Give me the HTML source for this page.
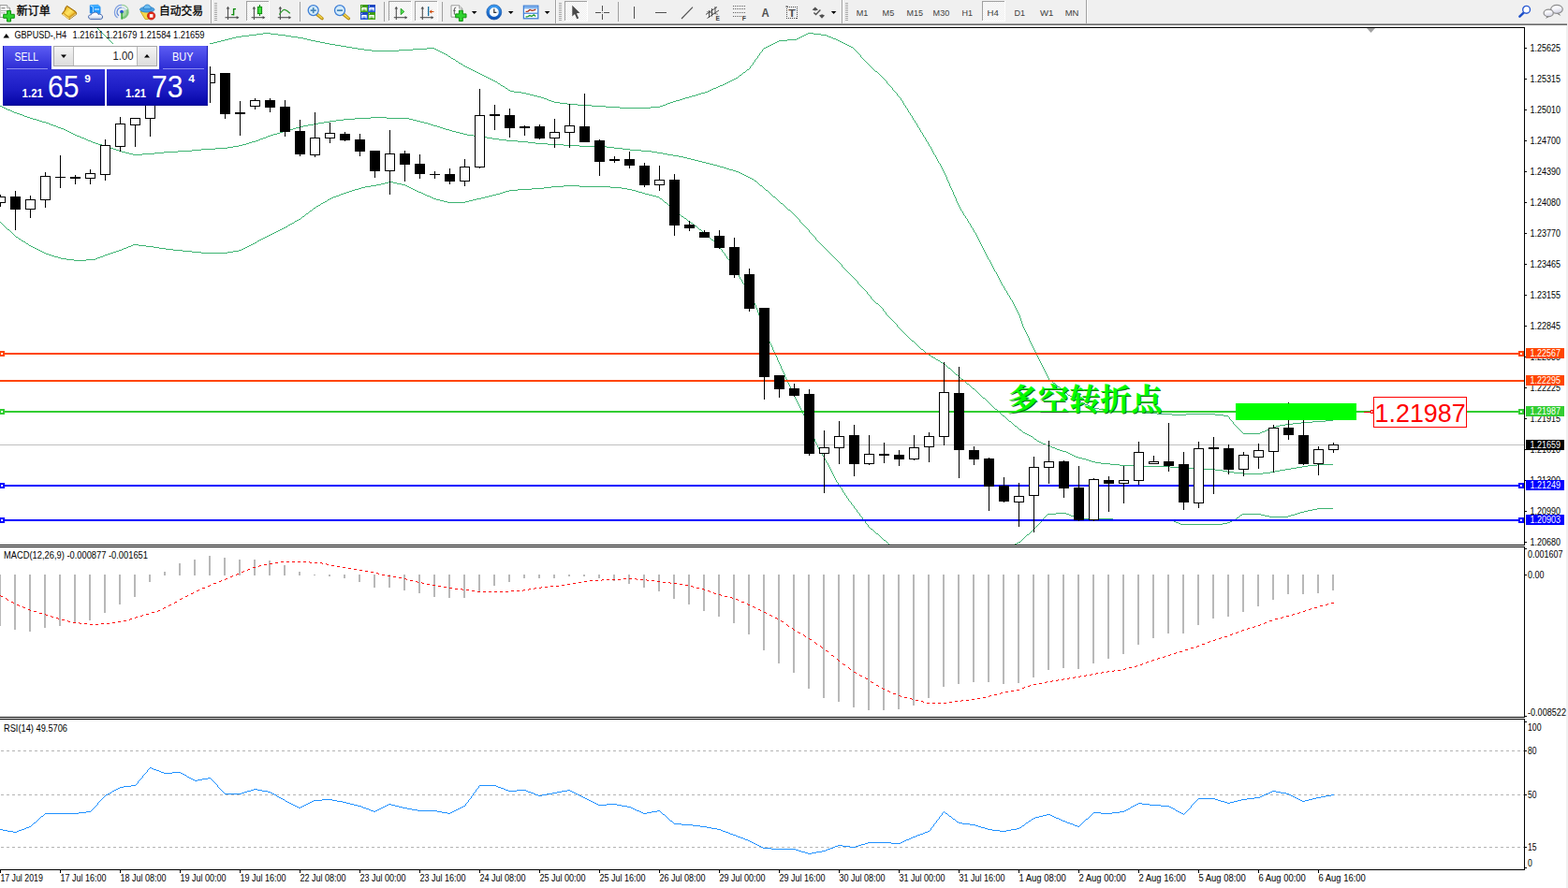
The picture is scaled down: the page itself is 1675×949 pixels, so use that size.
<!DOCTYPE html>
<html><head><meta charset="utf-8"><title>GBPUSD H4</title>
<style>html,body{margin:0;padding:0;background:#fff;overflow:hidden}body{width:1675px;height:949px;position:relative;font-family:"Liberation Sans", sans-serif}</style>
</head><body>
<svg width="1675" height="949" viewBox="0 0 1675 949" font-family='"Liberation Sans", sans-serif' style="position:absolute;left:0;top:0">
<defs>
<clipPath id="cm"><rect x="0" y="30" width="1628" height="552"/></clipPath>
<linearGradient id="gb1" x1="0" y1="0" x2="0" y2="1"><stop offset="0" stop-color="#5c5cf4"/><stop offset="1" stop-color="#2c2cd4"/></linearGradient>
<linearGradient id="gb2" x1="0" y1="0" x2="0" y2="1"><stop offset="0" stop-color="#3030d8"/><stop offset="0.55" stop-color="#1c1cc4"/><stop offset="1" stop-color="#0404a4"/></linearGradient>
<linearGradient id="gbtn" x1="0" y1="0" x2="0" y2="1"><stop offset="0" stop-color="#f4f4f4"/><stop offset="1" stop-color="#dcdcdc"/></linearGradient>
<pattern id="chk" width="2" height="2" patternUnits="userSpaceOnUse"><rect width="2" height="2" fill="#fff"/><rect width="1" height="1" fill="#ececec"/><rect x="1" y="1" width="1" height="1" fill="#ececec"/></pattern>
<linearGradient id="gbook" x1="0" y1="0" x2="1" y2="1"><stop offset="0" stop-color="#e9b422"/><stop offset="0.5" stop-color="#ffe565"/><stop offset="1" stop-color="#e2a81c"/></linearGradient>
<linearGradient id="gcloud" x1="0" y1="0" x2="0" y2="1"><stop offset="0" stop-color="#ffffff"/><stop offset="0.55" stop-color="#f2f5fa"/><stop offset="1" stop-color="#b6c4de"/></linearGradient>
<linearGradient id="gclock" x1="0" y1="0" x2="0" y2="1"><stop offset="0" stop-color="#3a9af0"/><stop offset="1" stop-color="#0f55b8"/></linearGradient>
<linearGradient id="gbub" x1="0" y1="0" x2="0.3" y2="1"><stop offset="0" stop-color="#ffffff"/><stop offset="0.5" stop-color="#f6f6fa"/><stop offset="1" stop-color="#d6d6e6"/></linearGradient>
</defs>
<rect x="0" y="0" width="1675" height="949" fill="#fff"/>
<g clip-path="url(#cm)">
<path d="M104 30.5h1M105 31.5h1M106 32.5h1M107 33.5h1M108 34.5h1M109 35.5h1M110 36.5h1M111 37.5h1M112 38.5h1M113 39.5h1M114 40.5h1M115 41.5h1M116 42.5h1M117 43.5h1M118 44.5h1M119 45.5h1M120 46.5h1M121 47.5h1M122 48.5h2M124 49.5h1M125 50.5h1M126 51.5h2M128 52.5h1M129 53.5h1M130 54.5h2M132 55.5h1M133 56.5h1M134 57.5h2M136 58.5h2M138 59.5h3M141 60.5h3M144 61.5h3M147 62.5h3M150 63.5h3M153 64.5h3M156 65.5h3M159 66.5h5M164 65.5h8M172 64.5h7M179 63.5h8M187 62.5h5M192 61.5h2M194 60.5h3M197 59.5h2M199 58.5h3M202 57.5h2M204 56.5h3M207 55.5h2M209 54.5h2M211 53.5h2M213 52.5h2M215 51.5h1M216 50.5h2M218 49.5h2M220 48.5h2M222 47.5h2M224 46.5h4M228 45.5h4M232 44.5h4M236 43.5h4M240 42.5h4M244 41.5h4M248 40.5h4M252 39.5h6M258 38.5h8M266 37.5h8M274 36.5h7M281 35.5h8M289 36.5h8M297 37.5h8M305 38.5h6M311 39.5h7M318 40.5h6M324 41.5h4M328 42.5h4M332 43.5h5M337 44.5h5M342 45.5h5M347 46.5h5M352 47.5h6M358 48.5h6M364 49.5h6M370 50.5h6M376 51.5h6M382 52.5h7M389 53.5h8M397 54.5h29M426 53.5h15M441 52.5h15M456 51.5h8M464 52.5h2M466 53.5h2M468 54.5h2M470 55.5h2M472 56.5h2M474 57.5h2M476 58.5h2M478 59.5h1M479 60.5h2M481 61.5h1M482 62.5h2M484 63.5h2M486 64.5h1M487 65.5h2M489 66.5h1M490 67.5h2M492 68.5h2M494 69.5h1M495 70.5h2M497 71.5h2M499 72.5h2M501 73.5h2M503 74.5h2M505 75.5h2M507 76.5h2M509 77.5h2M511 78.5h2M513 79.5h2M515 80.5h2M517 81.5h2M519 82.5h2M521 83.5h2M523 84.5h2M525 85.5h2M527 86.5h2M529 87.5h2M531 88.5h1M532 89.5h2M534 90.5h1M535 91.5h2M537 92.5h2M539 93.5h1M540 94.5h2M542 95.5h1M543 96.5h2M545 97.5h4M549 98.5h8M557 99.5h5M562 100.5h4M566 101.5h4M570 102.5h4M574 103.5h4M578 104.5h3M581 105.5h3M584 106.5h2M586 107.5h3M589 108.5h3M592 109.5h6M598 110.5h8M606 111.5h11M617 112.5h15M632 113.5h15M647 114.5h15M662 115.5h33M695 114.5h10M705 113.5h3M708 112.5h3M711 111.5h2M713 110.5h3M716 109.5h3M719 108.5h3M722 107.5h4M726 106.5h3M729 105.5h3M732 104.5h4M736 103.5h3M739 102.5h4M743 101.5h3M746 100.5h3M749 99.5h4M753 98.5h3M756 97.5h2M758 96.5h2M760 95.5h2M762 94.5h3M765 93.5h2M767 92.5h2M769 91.5h3M772 90.5h2M774 89.5h2M776 88.5h2M778 87.5h2M780 86.5h2M782 85.5h2M784 84.5h2M786 83.5h2M788 82.5h1M789 81.5h1M790 80.5h2M792 79.5h1M793 78.5h1M794 77.5h2M796 76.5h1M797 75.5h1M798 74.5h2M800 73.5h1M801.5 71v2M802 70.5h1M803 69.5h1M804.5 67v2M805 66.5h1M806.5 64v2M807 63.5h1M808 62.5h1M809.5 60v2M810 59.5h1M811.5 57v2M812 56.5h1M813 55.5h1M814.5 53v2M815 52.5h1M816 51.5h2M818 50.5h2M820 49.5h2M822 48.5h2M824 47.5h2M826 46.5h2M828 45.5h2M830 44.5h2M832 43.5h9M841 42.5h10M851 41.5h2M853 40.5h2M855 39.5h2M857 38.5h2M859 37.5h2M861 36.5h2M863 35.5h6M869 36.5h8M877 37.5h6M883 38.5h2M885 39.5h3M888 40.5h2M890 41.5h3M893 42.5h2M895 43.5h2M897 44.5h2M899 45.5h2M901 46.5h2M903 47.5h2M905 48.5h2M907 49.5h2M909 50.5h2M911 51.5h1M912 52.5h1M913 53.5h1M914 54.5h1M915 55.5h1M916 56.5h1M917 57.5h1M918 58.5h1M919.5 59v2M920 61.5h1M921 62.5h1M922 63.5h1M923 64.5h1M924 65.5h1M925 66.5h1M926 67.5h1M927 68.5h1M928 69.5h1M929 70.5h1M930 71.5h1M931 72.5h1M932 73.5h1M933 74.5h1M934 75.5h1M935 76.5h2M937 77.5h1M938 78.5h1M939 79.5h1M940 80.5h1M941 81.5h1M942 82.5h1M943 83.5h1M944 84.5h1M945 85.5h1M946 86.5h1M947.5 87v2M948 89.5h1M949 90.5h1M950 91.5h1M951 92.5h1M952 93.5h1M953.5 94v2M954 96.5h1M955 97.5h1M956 98.5h1M957 99.5h1M958.5 100v2M959 102.5h1M960 103.5h1M961 104.5h1M962.5 105v2M963 107.5h1M964.5 108v2M965.5 110v2M966 112.5h1M967.5 113v2M968 115.5h1M969.5 116v2M970.5 118v2M971 120.5h1M972.5 121v2M973 123.5h1M974.5 124v2M975.5 126v2M976 128.5h1M977.5 129v2M978 131.5h1M979.5 132v2M980.5 134v2M981 136.5h1M982.5 137v2M983.5 139v2M984 141.5h1M985.5 142v2M986.5 144v2M987 146.5h1M988.5 147v2M989.5 149v2M990 151.5h1M991.5 152v2M992.5 154v2M993 156.5h1M994.5 157v2M995.5 159v2M996.5 161v2M997.5 163v2M998 165.5h1M999.5 166v2M1000.5 168v2M1001.5 170v2M1002.5 172v2M1003 174.5h1M1004.5 175v2M1005.5 177v2M1006.5 179v2M1007.5 181v2M1008.5 183v2M1009.5 185v2M1010.5 187v2M1011.5 189v3M1012.5 192v2M1013.5 194v2M1014.5 196v3M1015.5 199v2M1016.5 201v2M1017.5 203v2M1018.5 205v3M1019.5 208v2M1020.5 210v2M1021.5 212v3M1022.5 215v2M1023.5 217v2M1024.5 219v2M1025.5 221v2M1026.5 223v2M1027 225.5h1M1028.5 226v2M1029.5 228v2M1030 230.5h1M1031.5 231v2M1032 233.5h1M1033.5 234v2M1034.5 236v2M1035 238.5h1M1036.5 239v2M1037.5 241v2M1038 243.5h1M1039.5 244v2M1040.5 246v2M1041 248.5h1M1042.5 249v2M1043.5 251v2M1044.5 253v2M1045.5 255v2M1046.5 257v2M1047.5 259v2M1048.5 261v2M1049.5 263v2M1050.5 265v2M1051.5 267v2M1052.5 269v2M1053.5 271v2M1054.5 273v2M1055.5 275v2M1056 277.5h1M1057.5 278v2M1058.5 280v2M1059.5 282v2M1060.5 284v2M1061.5 286v2M1062.5 288v2M1063 290.5h1M1064.5 291v2M1065.5 293v2M1066.5 295v2M1067.5 297v2M1068.5 299v2M1069.5 301v2M1070.5 303v2M1071 305.5h1M1072.5 306v2M1073.5 308v2M1074 310.5h1M1075.5 311v2M1076.5 313v2M1077 315.5h1M1078.5 316v2M1079.5 318v2M1080 320.5h1M1081.5 321v2M1082.5 323v2M1083.5 325v2M1084.5 327v2M1085.5 329v2M1086.5 331v2M1087.5 333v2M1088.5 335v2M1089.5 337v3M1090.5 340v3M1091.5 343v3M1092.5 346v3M1093.5 349v2M1094.5 351v2M1095.5 353v2M1096.5 355v2M1097.5 357v2M1098.5 359v2M1099.5 361v3M1100.5 364v2M1101.5 366v2M1102.5 368v2M1103.5 370v2M1104.5 372v2M1105.5 374v2M1106.5 376v2M1107.5 378v2M1108.5 380v2M1109.5 382v2M1110.5 384v2M1111.5 386v2M1112.5 388v2M1113.5 390v2M1114.5 392v2M1115.5 394v2M1116.5 396v2M1117.5 398v2M1118.5 400v2M1119.5 402v2M1120.5 404v2M1121 406.5h2M1123 407.5h1M1124 408.5h1M1125 409.5h2M1127 410.5h1M1128 411.5h1M1129 412.5h1M1130 413.5h2M1132 414.5h1M1133 415.5h1M1134 416.5h1M1135 417.5h1M1136 418.5h2M1138 419.5h1M1139 420.5h1M1140 421.5h1M1141 422.5h2M1143 423.5h2M1145 424.5h1M1146 425.5h2M1148 426.5h2M1150 427.5h1M1151 428.5h2M1153 429.5h2M1155 430.5h2M1157 431.5h2M1159 432.5h3M1162 433.5h2M1164 434.5h3M1167 435.5h2M1169 436.5h5M1174 437.5h6M1180 438.5h7M1187 439.5h13M1200 440.5h20M1220 441.5h16M1236 442.5h16M1252 443.5h15M1267 442.5h31M1298 443.5h9M1307 444.5h5M1312 445.5h1M1313.5 446v2M1314 448.5h1M1315 449.5h1M1316 450.5h1M1317.5 451v2M1318 453.5h1M1319 454.5h1M1320 455.5h1M1321 456.5h1M1322 457.5h1M1323 458.5h1M1324 459.5h1M1325 460.5h1M1326 461.5h1M1327 462.5h1M1328 463.5h18M1346 462.5h2M1348 461.5h3M1351 460.5h2M1353 459.5h3M1356 458.5h2M1358 457.5h3M1361 456.5h2M1363 455.5h4M1367 454.5h6M1373 453.5h8M1381 452.5h9M1390 451.5h12M1402 450.5h14M1416 449.5h8" fill="none" stroke="#3cb371" stroke-width="1" shape-rendering="crispEdges"/>
<path d="M0 113.5h2M2 114.5h2M4 115.5h2M6 116.5h2M8 117.5h3M11 118.5h2M13 119.5h2M15 120.5h3M18 121.5h3M21 122.5h3M24 123.5h2M26 124.5h3M29 125.5h3M32 126.5h3M35 127.5h4M39 128.5h3M42 129.5h3M45 130.5h4M49 131.5h3M52 132.5h2M54 133.5h3M57 134.5h3M60 135.5h2M62 136.5h3M65 137.5h3M68 138.5h2M70 139.5h2M72 140.5h2M74 141.5h2M76 142.5h2M78 143.5h2M80 144.5h2M82 145.5h3M85 146.5h2M87 147.5h3M90 148.5h2M92 149.5h2M94 150.5h3M97 151.5h2M99 152.5h3M102 153.5h3M105 154.5h4M109 155.5h3M112 156.5h3M115 157.5h3M118 158.5h3M121 159.5h3M124 160.5h3M127 161.5h3M130 162.5h4M134 163.5h4M138 164.5h4M142 165.5h10M152 164.5h13M165 163.5h10M175 162.5h15M190 161.5h15M205 160.5h10M215 159.5h15M230 158.5h13M243 157.5h6M249 156.5h6M255 155.5h4M259 154.5h4M263 153.5h3M266 152.5h3M269 151.5h4M273 150.5h3M276 149.5h2M278 148.5h3M281 147.5h3M284 146.5h2M286 145.5h3M289 144.5h3M292 143.5h4M296 142.5h3M299 141.5h3M302 140.5h4M306 139.5h3M309 138.5h4M313 137.5h3M316 136.5h4M320 135.5h4M324 134.5h5M329 133.5h6M335 132.5h5M340 131.5h6M346 130.5h6M352 129.5h7M359 128.5h8M367 127.5h12M379 126.5h17M396 125.5h17M413 126.5h24M437 127.5h4M441 128.5h4M445 129.5h4M449 130.5h4M453 131.5h4M457 132.5h3M460 133.5h3M463 134.5h4M467 135.5h3M470 136.5h3M473 137.5h3M476 138.5h4M480 139.5h3M483 140.5h4M487 141.5h4M491 142.5h4M495 143.5h4M499 144.5h7M506 145.5h8M514 146.5h6M520 147.5h6M526 148.5h7M533 149.5h8M541 150.5h12M553 151.5h11M564 152.5h8M572 153.5h13M585 154.5h17M602 155.5h17M619 156.5h29M648 157.5h8M656 158.5h9M665 159.5h8M673 160.5h12M685 161.5h11M696 162.5h6M702 163.5h6M708 164.5h5M713 165.5h6M719 166.5h6M725 167.5h5M730 168.5h4M734 169.5h4M738 170.5h4M742 171.5h4M746 172.5h4M750 173.5h4M754 174.5h4M758 175.5h4M762 176.5h4M766 177.5h3M769 178.5h4M773 179.5h3M776 180.5h3M779 181.5h4M783 182.5h3M786 183.5h3M789 184.5h2M791 185.5h2M793 186.5h2M795 187.5h2M797 188.5h2M799 189.5h2M801 190.5h2M803 191.5h2M805 192.5h1M806 193.5h2M808 194.5h1M809 195.5h1M810 196.5h1M811 197.5h1M812 198.5h2M814 199.5h1M815 200.5h1M816 201.5h1M817 202.5h1M818 203.5h2M820 204.5h1M821 205.5h1M822 206.5h1M823 207.5h1M824 208.5h1M825 209.5h1M826 210.5h2M828 211.5h1M829 212.5h1M830 213.5h1M831 214.5h1M832 215.5h1M833 216.5h1M834 217.5h2M836 218.5h1M837 219.5h1M838 220.5h1M839 221.5h1M840 222.5h1M841 223.5h1M842 224.5h2M844 225.5h1M845 226.5h1M846 227.5h1M847 228.5h1M848 229.5h1M849 230.5h1M850 231.5h1M851 232.5h1M852 233.5h1M853 234.5h1M854.5 235v2M855 237.5h1M856 238.5h1M857 239.5h1M858 240.5h1M859 241.5h1M860 242.5h1M861 243.5h1M862 244.5h1M863 245.5h1M864.5 246v2M865 248.5h1M866 249.5h1M867 250.5h1M868 251.5h1M869 252.5h1M870 253.5h1M871.5 254v2M872 256.5h1M873 257.5h1M874 258.5h1M875 259.5h1M876 260.5h1M877 261.5h1M878 262.5h1M879 263.5h1M880 264.5h1M881 265.5h1M882 266.5h1M883 267.5h1M884 268.5h1M885 269.5h1M886 270.5h1M887 271.5h1M888 272.5h1M889 273.5h1M890 274.5h1M891 275.5h1M892 276.5h1M893 277.5h1M894 278.5h1M895 279.5h1M896 280.5h1M897 281.5h1M898 282.5h1M899.5 283v2M900 285.5h1M901 286.5h1M902 287.5h1M903 288.5h1M904 289.5h1M905 290.5h1M906 291.5h1M907 292.5h1M908 293.5h1M909 294.5h1M910 295.5h1M911 296.5h1M912 297.5h1M913 298.5h1M914 299.5h1M915 300.5h1M916.5 301v2M917 303.5h1M918 304.5h1M919 305.5h1M920 306.5h1M921 307.5h1M922 308.5h1M923 309.5h1M924 310.5h1M925 311.5h1M926.5 312v2M927 314.5h1M928 315.5h1M929 316.5h1M930.5 317v2M931 319.5h1M932 320.5h1M933 321.5h1M934 322.5h1M935 323.5h1M936 324.5h2M938 325.5h1M939 326.5h1M940 327.5h1M941 328.5h1M942 329.5h1M943.5 330v2M944 332.5h1M945 333.5h1M946.5 334v2M947 336.5h1M948 337.5h1M949 338.5h1M950 339.5h1M951 340.5h1M952 341.5h1M953 342.5h1M954 343.5h1M955 344.5h1M956 345.5h1M957 346.5h1M958.5 347v2M959 349.5h1M960 350.5h1M961 351.5h1M962 352.5h1M963 353.5h1M964 354.5h1M965 355.5h1M966 356.5h1M967 357.5h1M968 358.5h1M969 359.5h1M970 360.5h1M971 361.5h1M972 362.5h1M973 363.5h1M974 364.5h2M976 365.5h1M977 366.5h1M978 367.5h1M979 368.5h1M980 369.5h1M981 370.5h1M982 371.5h1M983 372.5h1M984 373.5h2M986 374.5h1M987 375.5h1M988 376.5h1M989 377.5h1M990 378.5h2M992 379.5h2M994 380.5h1M995 381.5h2M997 382.5h2M999 383.5h1M1000 384.5h2M1002 385.5h2M1004 386.5h1M1005 387.5h2M1007 388.5h2M1009 389.5h1M1010 390.5h1M1011 391.5h1M1012 392.5h1M1013 393.5h2M1015 394.5h1M1016 395.5h1M1017 396.5h1M1018 397.5h1M1019 398.5h1M1020 399.5h1M1021 400.5h2M1023 401.5h1M1024 402.5h1M1025 403.5h1M1026 404.5h1M1027 405.5h2M1029 406.5h1M1030 407.5h1M1031 408.5h1M1032 409.5h1M1033 410.5h2M1035 411.5h1M1036 412.5h1M1037 413.5h1M1038 414.5h1M1039 415.5h2M1041 416.5h1M1042 417.5h1M1043 418.5h1M1044 419.5h1M1045 420.5h1M1046 421.5h1M1047 422.5h1M1048 423.5h1M1049 424.5h1M1050 425.5h2M1052 426.5h1M1053 427.5h1M1054 428.5h1M1055 429.5h1M1056 430.5h1M1057 431.5h1M1058 432.5h1M1059 433.5h1M1060 434.5h1M1061 435.5h1M1062 436.5h1M1063 437.5h2M1065 438.5h1M1066 439.5h1M1067 440.5h1M1068 441.5h1M1069 442.5h1M1070 443.5h1M1071 444.5h2M1073 445.5h1M1074 446.5h1M1075 447.5h1M1076 448.5h1M1077 449.5h1M1078 450.5h2M1080 451.5h1M1081 452.5h1M1082 453.5h1M1083 454.5h1M1084 455.5h2M1086 456.5h1M1087 457.5h1M1088 458.5h1M1089 459.5h2M1091 460.5h1M1092 461.5h1M1093 462.5h2M1095 463.5h2M1097 464.5h2M1099 465.5h2M1101 466.5h2M1103 467.5h1M1104 468.5h1M1105 469.5h2M1107 470.5h1M1108 471.5h2M1110 472.5h2M1112 473.5h2M1114 474.5h3M1117 475.5h2M1119 476.5h3M1122 477.5h2M1124 478.5h3M1127 479.5h2M1129 480.5h3M1132 481.5h3M1135 482.5h4M1139 483.5h2M1141 484.5h2M1143 485.5h2M1145 486.5h2M1147 487.5h2M1149 488.5h3M1152 489.5h4M1156 490.5h4M1160 491.5h3M1163 492.5h3M1166 493.5h4M1170 494.5h6M1176 495.5h10M1186 496.5h10M1196 497.5h23M1219 498.5h31M1250 499.5h15M1265 500.5h18M1283 501.5h15M1298 502.5h8M1306 503.5h5M1311 504.5h7M1318 505.5h10M1328 506.5h21M1349 505.5h8M1357 504.5h5M1362 503.5h5M1367 502.5h6M1373 501.5h6M1379 500.5h6M1385 499.5h6M1391 498.5h6M1397 497.5h10M1407 496.5h17" fill="none" stroke="#3cb371" stroke-width="1" shape-rendering="crispEdges"/>
<path d="M0 237.5h1M1 238.5h1M2 239.5h1M3 240.5h1M4 241.5h1M5 242.5h1M6 243.5h1M7 244.5h1M8 245.5h2M10 246.5h1M11 247.5h1M12 248.5h1M13 249.5h1M14 250.5h1M15 251.5h1M16 252.5h1M17 253.5h2M19 254.5h1M20 255.5h2M22 256.5h1M23 257.5h2M25 258.5h2M27 259.5h1M28 260.5h2M30 261.5h1M31 262.5h2M33 263.5h2M35 264.5h2M37 265.5h2M39 266.5h2M41 267.5h2M43 268.5h2M45 269.5h2M47 270.5h2M49 271.5h3M52 272.5h3M55 273.5h3M58 274.5h4M62 275.5h3M65 276.5h6M71 277.5h8M79 278.5h13M92 277.5h10M102 276.5h2M104 275.5h3M107 274.5h3M110 273.5h2M112 272.5h3M115 271.5h3M118 270.5h3M121 269.5h3M124 268.5h3M127 267.5h3M130 266.5h2M132 265.5h3M135 264.5h2M137 263.5h3M140 262.5h2M142 261.5h6M148 262.5h8M156 263.5h8M164 264.5h6M170 265.5h7M177 266.5h8M185 267.5h10M195 268.5h10M205 269.5h10M215 270.5h28M243 269.5h6M249 268.5h6M255 267.5h3M258 266.5h2M260 265.5h2M262 264.5h2M264 263.5h2M266 262.5h2M268 261.5h2M270 260.5h2M272 259.5h2M274 258.5h1M275 257.5h2M277 256.5h2M279 255.5h2M281 254.5h2M283 253.5h2M285 252.5h2M287 251.5h2M289 250.5h2M291 249.5h2M293 248.5h2M295 247.5h2M297 246.5h2M299 245.5h2M301 244.5h2M303 243.5h2M305 242.5h2M307 241.5h1M308 240.5h2M310 239.5h2M312 238.5h2M314 237.5h1M315 236.5h2M317 235.5h2M319 234.5h2M321 233.5h1M322 232.5h1M323 231.5h2M325 230.5h1M326 229.5h1M327 228.5h2M329 227.5h1M330 226.5h1M331 225.5h2M333 224.5h1M334 223.5h1M335 222.5h2M337 221.5h1M338 220.5h2M340 219.5h2M342 218.5h1M343 217.5h2M345 216.5h2M347 215.5h2M349 214.5h1M350 213.5h2M352 212.5h2M354 211.5h2M356 210.5h3M359 209.5h3M362 208.5h2M364 207.5h3M367 206.5h3M370 205.5h3M373 204.5h3M376 203.5h3M379 202.5h4M383 201.5h3M386 200.5h4M390 199.5h6M396 198.5h6M402 197.5h5M407 196.5h4M411 195.5h4M415 194.5h5M420 195.5h4M424 196.5h5M429 197.5h4M433 198.5h2M435 199.5h2M437 200.5h2M439 201.5h2M441 202.5h2M443 203.5h2M445 204.5h2M447 205.5h3M450 206.5h2M452 207.5h2M454 208.5h2M456 209.5h3M459 210.5h2M461 211.5h2M463 212.5h3M466 213.5h4M470 214.5h4M474 215.5h4M478 216.5h19M497 215.5h4M501 214.5h4M505 213.5h4M509 212.5h5M514 211.5h4M518 210.5h4M522 209.5h4M526 208.5h4M530 207.5h4M534 206.5h3M537 205.5h3M540 204.5h4M544 203.5h9M553 202.5h15M568 201.5h13M581 200.5h8M589 199.5h13M602 198.5h17M619 199.5h33M652 200.5h12M664 201.5h6M670 202.5h5M675 203.5h4M679 204.5h3M682 205.5h4M686 206.5h3M689 207.5h4M693 208.5h4M697 209.5h4M701 210.5h3M704 211.5h1M705 212.5h2M707 213.5h1M708 214.5h1M709 215.5h1M710 216.5h2M712 217.5h1M713 218.5h1M714 219.5h1M715 220.5h1M716 221.5h2M718 222.5h1M719 223.5h1M720 224.5h1M721 225.5h1M722 226.5h1M723 227.5h2M725 228.5h1M726 229.5h1M727 230.5h1M728 231.5h2M730 232.5h1M731 233.5h2M733 234.5h1M734 235.5h1M735 236.5h2M737 237.5h1M738 238.5h2M740 239.5h1M741 240.5h1M742 241.5h2M744 242.5h1M745 243.5h1M746 244.5h1M747 245.5h2M749 246.5h1M750 247.5h1M751 248.5h2M753 249.5h1M754 250.5h1M755 251.5h1M756 252.5h1M757 253.5h1M758 254.5h1M759 255.5h1M760 256.5h2M762 257.5h1M763 258.5h1M764 259.5h1M765 260.5h1M766 261.5h1M767 262.5h1M768.5 263v2M769 265.5h1M770 266.5h1M771.5 267v2M772 269.5h1M773 270.5h1M774.5 271v2M775 273.5h1M776.5 274v2M777 276.5h1M778 277.5h1M779.5 278v2M780 280.5h1M781.5 281v2M782.5 283v2M783 285.5h1M784.5 286v2M785.5 288v2M786 290.5h1M787.5 291v2M788 293.5h1M789.5 294v2M790.5 296v2M791 298.5h1M792.5 299v2M793.5 301v2M794 303.5h1M795.5 304v2M796.5 306v2M797.5 308v2M798 310.5h1M799.5 311v2M800.5 313v2M801 315.5h1M802.5 316v2M803.5 318v2M804.5 320v2M805.5 322v2M806.5 324v2M807.5 326v3M808.5 329v2M809.5 331v3M810.5 334v3M811.5 337v2M812.5 339v3M813.5 342v2M814.5 344v3M815.5 347v2M816.5 349v3M817.5 352v2M818.5 354v3M819.5 357v3M820.5 360v2M821.5 362v3M822.5 365v2M823.5 367v2M824.5 369v2M825.5 371v3M826.5 374v2M827.5 376v2M828.5 378v2M829.5 380v2M830.5 382v3M831.5 385v2M832.5 387v2M833.5 389v2M834.5 391v3M835.5 394v2M836.5 396v2M837.5 398v2M838.5 400v3M839.5 403v2M840.5 405v2M841.5 407v2M842.5 409v2M843.5 411v2M844.5 413v2M845.5 415v3M846.5 418v2M847.5 420v2M848.5 422v2M849.5 424v2M850.5 426v2M851.5 428v2M852.5 430v2M853.5 432v2M854.5 434v2M855.5 436v2M856.5 438v2M857.5 440v2M858.5 442v2M859.5 444v2M860.5 446v2M861.5 448v2M862.5 450v2M863.5 452v3M864.5 455v2M865.5 457v3M866.5 460v2M867.5 462v2M868.5 464v3M869.5 467v2M870.5 469v3M871.5 472v2M872.5 474v2M873.5 476v2M874.5 478v2M875.5 480v2M876 482.5h1M877.5 483v2M878.5 485v2M879 487.5h1M880.5 488v2M881.5 490v2M882.5 492v2M883 494.5h1M884.5 495v2M885.5 497v2M886.5 499v2M887.5 501v2M888.5 503v2M889.5 505v2M890.5 507v2M891.5 509v2M892.5 511v2M893.5 513v2M894 515.5h1M895.5 516v2M896 518.5h1M897.5 519v2M898 521.5h1M899.5 522v2M900.5 524v2M901 526.5h1M902.5 527v2M903 529.5h1M904.5 530v2M905 532.5h1M906.5 533v2M907 535.5h1M908 536.5h1M909.5 537v2M910 539.5h1M911 540.5h1M912.5 541v2M913 543.5h1M914 544.5h1M915.5 545v2M916 547.5h1M917 548.5h1M918.5 549v2M919 551.5h1M920 552.5h1M921.5 553v2M922 555.5h1M923 556.5h1M924.5 557v2M925 559.5h1M926 560.5h1M927.5 561v2M928 563.5h1M929 564.5h1M930 565.5h2M932 566.5h1M933 567.5h1M934 568.5h1M935 569.5h1M936 570.5h2M938 571.5h1M939 572.5h1M940 573.5h1M941 574.5h1M942 575.5h1M943 576.5h1M944 577.5h2M946 578.5h1M947 579.5h1M948 580.5h1M949 581.5h1M1084 581.5h2M1086 580.5h2M1088 579.5h2M1090 578.5h1M1091 577.5h1M1092 576.5h1M1093 575.5h1M1094 574.5h1M1095 573.5h1M1096 572.5h1M1097 571.5h2M1099 570.5h1M1100 569.5h1M1101 568.5h1M1102 567.5h1M1103 566.5h1M1104 565.5h1M1105 564.5h1M1106 563.5h1M1107 562.5h1M1108 561.5h1M1109 560.5h1M1110 559.5h1M1111 558.5h1M1112.5 556v2M1113 555.5h1M1114 554.5h1M1115 553.5h1M1116 552.5h1M1117 551.5h1M1118 550.5h1M1119 549.5h9M1128 548.5h11M1139 549.5h3M1142 550.5h2M1144 551.5h3M1147 552.5h4M1151 553.5h4M1155 554.5h34M1189 555.5h47M1236 556.5h18M1254 557.5h2M1256 558.5h3M1259 559.5h2M1261 560.5h45M1306 559.5h5M1311 558.5h3M1314 557.5h2M1316 556.5h2M1318 555.5h2M1320 554.5h1M1321 553.5h2M1323 552.5h1M1324 551.5h1M1325 550.5h2M1327 549.5h20M1347 550.5h4M1351 551.5h5M1356 552.5h20M1376 551.5h3M1379 550.5h4M1383 549.5h3M1386 548.5h3M1389 547.5h4M1393 546.5h4M1397 545.5h5M1402 544.5h5M1407 543.5h17" fill="none" stroke="#3cb371" stroke-width="1" shape-rendering="crispEdges"/>
<g shape-rendering="crispEdges">
<rect x="0" y="475" width="1628" height="1" fill="#c0c0c0"/>
<rect x="0" y="377" width="1628" height="2" fill="#ff4500"/>
<rect x="0" y="406" width="1628" height="2" fill="#ff4500"/>
<rect x="0" y="439" width="1628" height="2" fill="#32cd32"/>
<rect x="0" y="518" width="1628" height="2" fill="#0000ff"/>
<rect x="0" y="555" width="1628" height="2" fill="#0000ff"/>
<rect x="0" y="208" width="1" height="13" fill="#000"/>
<rect x="-5" y="210" width="11" height="7" fill="#000"/>
<rect x="-4" y="211" width="9" height="5" fill="#fff"/>
<rect x="16" y="204" width="1" height="42" fill="#000"/>
<rect x="11" y="210" width="11" height="14" fill="#000"/>
<rect x="32" y="209" width="1" height="24" fill="#000"/>
<rect x="27" y="213" width="11" height="11" fill="#000"/>
<rect x="28" y="214" width="9" height="9" fill="#fff"/>
<rect x="48" y="184" width="1" height="38" fill="#000"/>
<rect x="43" y="188" width="11" height="26" fill="#000"/>
<rect x="44" y="189" width="9" height="24" fill="#fff"/>
<rect x="64" y="166" width="1" height="35" fill="#000"/>
<rect x="59" y="189" width="11" height="1" fill="#000"/>
<rect x="80" y="187" width="1" height="10" fill="#000"/>
<rect x="75" y="189" width="11" height="2" fill="#000"/>
<rect x="96" y="181" width="1" height="16" fill="#000"/>
<rect x="91" y="185" width="11" height="6" fill="#000"/>
<rect x="92" y="186" width="9" height="4" fill="#fff"/>
<rect x="112" y="149" width="1" height="44" fill="#000"/>
<rect x="107" y="155" width="11" height="32" fill="#000"/>
<rect x="108" y="156" width="9" height="30" fill="#fff"/>
<rect x="128" y="125" width="1" height="37" fill="#000"/>
<rect x="123" y="132" width="11" height="25" fill="#000"/>
<rect x="124" y="133" width="9" height="23" fill="#fff"/>
<rect x="144" y="126" width="1" height="31" fill="#000"/>
<rect x="139" y="126" width="11" height="8" fill="#000"/>
<rect x="140" y="127" width="9" height="6" fill="#fff"/>
<rect x="160" y="92" width="1" height="54" fill="#000"/>
<rect x="155" y="99" width="11" height="28" fill="#000"/>
<rect x="156" y="100" width="9" height="26" fill="#fff"/>
<rect x="176" y="80" width="1" height="24" fill="#000"/>
<rect x="171" y="84" width="11" height="16" fill="#000"/>
<rect x="172" y="85" width="9" height="14" fill="#fff"/>
<rect x="192" y="70" width="1" height="25" fill="#000"/>
<rect x="187" y="76" width="11" height="9" fill="#000"/>
<rect x="188" y="77" width="9" height="7" fill="#fff"/>
<rect x="208" y="66" width="1" height="24" fill="#000"/>
<rect x="203" y="74" width="11" height="6" fill="#000"/>
<rect x="224" y="71" width="1" height="39" fill="#000"/>
<rect x="219" y="79" width="11" height="10" fill="#000"/>
<rect x="220" y="80" width="9" height="8" fill="#fff"/>
<rect x="240" y="78" width="1" height="49" fill="#000"/>
<rect x="235" y="78" width="11" height="44" fill="#000"/>
<rect x="256" y="108" width="1" height="37" fill="#000"/>
<rect x="251" y="120" width="11" height="2" fill="#000"/>
<rect x="272" y="105" width="1" height="12" fill="#000"/>
<rect x="267" y="107" width="11" height="7" fill="#000"/>
<rect x="268" y="108" width="9" height="5" fill="#fff"/>
<rect x="288" y="105" width="1" height="15" fill="#000"/>
<rect x="283" y="107" width="11" height="8" fill="#000"/>
<rect x="304" y="107" width="1" height="39" fill="#000"/>
<rect x="299" y="114" width="11" height="27" fill="#000"/>
<rect x="320" y="128" width="1" height="39" fill="#000"/>
<rect x="315" y="140" width="11" height="25" fill="#000"/>
<rect x="336" y="120" width="1" height="48" fill="#000"/>
<rect x="331" y="147" width="11" height="19" fill="#000"/>
<rect x="332" y="148" width="9" height="17" fill="#fff"/>
<rect x="352" y="131" width="1" height="22" fill="#000"/>
<rect x="347" y="142" width="11" height="6" fill="#000"/>
<rect x="348" y="143" width="9" height="4" fill="#fff"/>
<rect x="368" y="141" width="1" height="10" fill="#000"/>
<rect x="363" y="143" width="11" height="7" fill="#000"/>
<rect x="384" y="143" width="1" height="24" fill="#000"/>
<rect x="379" y="149" width="11" height="13" fill="#000"/>
<rect x="400" y="161" width="1" height="29" fill="#000"/>
<rect x="395" y="161" width="11" height="22" fill="#000"/>
<rect x="416" y="139" width="1" height="69" fill="#000"/>
<rect x="411" y="164" width="11" height="19" fill="#000"/>
<rect x="412" y="165" width="9" height="17" fill="#fff"/>
<rect x="432" y="161" width="1" height="33" fill="#000"/>
<rect x="427" y="164" width="11" height="12" fill="#000"/>
<rect x="448" y="165" width="1" height="26" fill="#000"/>
<rect x="443" y="175" width="11" height="11" fill="#000"/>
<rect x="464" y="183" width="1" height="8" fill="#000"/>
<rect x="459" y="186" width="11" height="1" fill="#000"/>
<rect x="480" y="180" width="1" height="17" fill="#000"/>
<rect x="475" y="186" width="11" height="8" fill="#000"/>
<rect x="496" y="170" width="1" height="29" fill="#000"/>
<rect x="491" y="178" width="11" height="16" fill="#000"/>
<rect x="492" y="179" width="9" height="14" fill="#fff"/>
<rect x="512" y="95" width="1" height="85" fill="#000"/>
<rect x="507" y="123" width="11" height="56" fill="#000"/>
<rect x="508" y="124" width="9" height="54" fill="#fff"/>
<rect x="528" y="112" width="1" height="27" fill="#000"/>
<rect x="523" y="122" width="11" height="2" fill="#000"/>
<rect x="544" y="116" width="1" height="31" fill="#000"/>
<rect x="539" y="123" width="11" height="14" fill="#000"/>
<rect x="560" y="134" width="1" height="11" fill="#000"/>
<rect x="555" y="135" width="11" height="2" fill="#000"/>
<rect x="576" y="133" width="1" height="16" fill="#000"/>
<rect x="571" y="135" width="11" height="13" fill="#000"/>
<rect x="592" y="127" width="1" height="31" fill="#000"/>
<rect x="587" y="141" width="11" height="7" fill="#000"/>
<rect x="588" y="142" width="9" height="5" fill="#fff"/>
<rect x="608" y="111" width="1" height="47" fill="#000"/>
<rect x="603" y="134" width="11" height="8" fill="#000"/>
<rect x="604" y="135" width="9" height="6" fill="#fff"/>
<rect x="624" y="100" width="1" height="52" fill="#000"/>
<rect x="619" y="135" width="11" height="17" fill="#000"/>
<rect x="640" y="149" width="1" height="39" fill="#000"/>
<rect x="635" y="150" width="11" height="23" fill="#000"/>
<rect x="656" y="167" width="1" height="7" fill="#000"/>
<rect x="651" y="170" width="11" height="2" fill="#000"/>
<rect x="672" y="162" width="1" height="18" fill="#000"/>
<rect x="667" y="170" width="11" height="7" fill="#000"/>
<rect x="688" y="174" width="1" height="26" fill="#000"/>
<rect x="683" y="177" width="11" height="21" fill="#000"/>
<rect x="704" y="177" width="1" height="27" fill="#000"/>
<rect x="699" y="192" width="11" height="6" fill="#000"/>
<rect x="700" y="193" width="9" height="4" fill="#fff"/>
<rect x="720" y="186" width="1" height="66" fill="#000"/>
<rect x="715" y="192" width="11" height="49" fill="#000"/>
<rect x="736" y="236" width="1" height="11" fill="#000"/>
<rect x="731" y="240" width="11" height="4" fill="#000"/>
<rect x="752" y="246" width="1" height="8" fill="#000"/>
<rect x="747" y="248" width="11" height="6" fill="#000"/>
<rect x="768" y="246" width="1" height="20" fill="#000"/>
<rect x="763" y="252" width="11" height="13" fill="#000"/>
<rect x="784" y="254" width="1" height="43" fill="#000"/>
<rect x="779" y="264" width="11" height="30" fill="#000"/>
<rect x="800" y="287" width="1" height="46" fill="#000"/>
<rect x="795" y="293" width="11" height="37" fill="#000"/>
<rect x="816" y="329" width="1" height="98" fill="#000"/>
<rect x="811" y="329" width="11" height="74" fill="#000"/>
<rect x="832" y="401" width="1" height="24" fill="#000"/>
<rect x="827" y="401" width="11" height="15" fill="#000"/>
<rect x="848" y="410" width="1" height="14" fill="#000"/>
<rect x="843" y="415" width="11" height="8" fill="#000"/>
<rect x="864" y="416" width="1" height="71" fill="#000"/>
<rect x="859" y="421" width="11" height="64" fill="#000"/>
<rect x="880" y="460" width="1" height="67" fill="#000"/>
<rect x="875" y="478" width="11" height="7" fill="#000"/>
<rect x="876" y="479" width="9" height="5" fill="#fff"/>
<rect x="896" y="450" width="1" height="46" fill="#000"/>
<rect x="891" y="466" width="11" height="13" fill="#000"/>
<rect x="892" y="467" width="9" height="11" fill="#fff"/>
<rect x="912" y="454" width="1" height="55" fill="#000"/>
<rect x="907" y="465" width="11" height="31" fill="#000"/>
<rect x="928" y="465" width="1" height="32" fill="#000"/>
<rect x="923" y="485" width="11" height="11" fill="#000"/>
<rect x="924" y="486" width="9" height="9" fill="#fff"/>
<rect x="944" y="473" width="1" height="22" fill="#000"/>
<rect x="939" y="485" width="11" height="2" fill="#000"/>
<rect x="960" y="481" width="1" height="17" fill="#000"/>
<rect x="955" y="486" width="11" height="5" fill="#000"/>
<rect x="976" y="465" width="1" height="27" fill="#000"/>
<rect x="971" y="478" width="11" height="13" fill="#000"/>
<rect x="972" y="479" width="9" height="11" fill="#fff"/>
<rect x="992" y="462" width="1" height="32" fill="#000"/>
<rect x="987" y="466" width="11" height="12" fill="#000"/>
<rect x="988" y="467" width="9" height="10" fill="#fff"/>
<rect x="1008" y="387" width="1" height="89" fill="#000"/>
<rect x="1003" y="419" width="11" height="48" fill="#000"/>
<rect x="1004" y="420" width="9" height="46" fill="#fff"/>
<rect x="1024" y="392" width="1" height="119" fill="#000"/>
<rect x="1019" y="420" width="11" height="61" fill="#000"/>
<rect x="1040" y="477" width="1" height="20" fill="#000"/>
<rect x="1035" y="481" width="11" height="10" fill="#000"/>
<rect x="1056" y="489" width="1" height="57" fill="#000"/>
<rect x="1051" y="490" width="11" height="30" fill="#000"/>
<rect x="1072" y="510" width="1" height="27" fill="#000"/>
<rect x="1067" y="519" width="11" height="17" fill="#000"/>
<rect x="1088" y="516" width="1" height="47" fill="#000"/>
<rect x="1083" y="530" width="11" height="7" fill="#000"/>
<rect x="1084" y="531" width="9" height="5" fill="#fff"/>
<rect x="1104" y="488" width="1" height="81" fill="#000"/>
<rect x="1099" y="499" width="11" height="31" fill="#000"/>
<rect x="1100" y="500" width="9" height="29" fill="#fff"/>
<rect x="1120" y="471" width="1" height="46" fill="#000"/>
<rect x="1115" y="493" width="11" height="7" fill="#000"/>
<rect x="1116" y="494" width="9" height="5" fill="#fff"/>
<rect x="1136" y="492" width="1" height="40" fill="#000"/>
<rect x="1131" y="493" width="11" height="29" fill="#000"/>
<rect x="1152" y="498" width="1" height="59" fill="#000"/>
<rect x="1147" y="521" width="11" height="35" fill="#000"/>
<rect x="1168" y="511" width="1" height="46" fill="#000"/>
<rect x="1163" y="512" width="11" height="44" fill="#000"/>
<rect x="1164" y="513" width="9" height="42" fill="#fff"/>
<rect x="1184" y="509" width="1" height="38" fill="#000"/>
<rect x="1179" y="513" width="11" height="4" fill="#000"/>
<rect x="1200" y="498" width="1" height="40" fill="#000"/>
<rect x="1195" y="513" width="11" height="4" fill="#000"/>
<rect x="1196" y="514" width="9" height="2" fill="#fff"/>
<rect x="1216" y="472" width="1" height="46" fill="#000"/>
<rect x="1211" y="483" width="11" height="31" fill="#000"/>
<rect x="1212" y="484" width="9" height="29" fill="#fff"/>
<rect x="1232" y="487" width="1" height="9" fill="#000"/>
<rect x="1227" y="493" width="11" height="3" fill="#000"/>
<rect x="1228" y="494" width="9" height="1" fill="#fff"/>
<rect x="1248" y="452" width="1" height="52" fill="#000"/>
<rect x="1243" y="493" width="11" height="5" fill="#000"/>
<rect x="1264" y="483" width="1" height="62" fill="#000"/>
<rect x="1259" y="496" width="11" height="41" fill="#000"/>
<rect x="1280" y="472" width="1" height="71" fill="#000"/>
<rect x="1275" y="479" width="11" height="59" fill="#000"/>
<rect x="1276" y="480" width="9" height="57" fill="#fff"/>
<rect x="1296" y="467" width="1" height="61" fill="#000"/>
<rect x="1291" y="478" width="11" height="2" fill="#000"/>
<rect x="1312" y="475" width="1" height="32" fill="#000"/>
<rect x="1307" y="479" width="11" height="23" fill="#000"/>
<rect x="1328" y="483" width="1" height="26" fill="#000"/>
<rect x="1323" y="486" width="11" height="16" fill="#000"/>
<rect x="1324" y="487" width="9" height="14" fill="#fff"/>
<rect x="1344" y="474" width="1" height="27" fill="#000"/>
<rect x="1339" y="481" width="11" height="8" fill="#000"/>
<rect x="1340" y="482" width="9" height="6" fill="#fff"/>
<rect x="1360" y="454" width="1" height="51" fill="#000"/>
<rect x="1355" y="457" width="11" height="26" fill="#000"/>
<rect x="1356" y="458" width="9" height="24" fill="#fff"/>
<rect x="1376" y="430" width="1" height="40" fill="#000"/>
<rect x="1371" y="457" width="11" height="8" fill="#000"/>
<rect x="1392" y="438" width="1" height="59" fill="#000"/>
<rect x="1387" y="465" width="11" height="31" fill="#000"/>
<rect x="1408" y="477" width="1" height="31" fill="#000"/>
<rect x="1403" y="480" width="11" height="16" fill="#000"/>
<rect x="1404" y="481" width="9" height="14" fill="#fff"/>
<rect x="1424" y="473" width="1" height="11" fill="#000"/>
<rect x="1419" y="475" width="11" height="6" fill="#000"/>
<rect x="1420" y="476" width="9" height="4" fill="#fff"/>
</g>
<rect x="1320" y="431" width="129" height="18" fill="#00ff00" shape-rendering="crispEdges"/>
</g>
<rect x="-1" y="375" width="6" height="6" fill="#ff4500" shape-rendering="crispEdges"/>
<rect x="1" y="377" width="2" height="2" fill="#fff" shape-rendering="crispEdges"/>
<rect x="1622" y="375" width="6" height="6" fill="#ff4500" shape-rendering="crispEdges"/>
<rect x="1624" y="377" width="2" height="2" fill="#fff" shape-rendering="crispEdges"/>
<rect x="-1" y="437" width="6" height="6" fill="#32cd32" shape-rendering="crispEdges"/>
<rect x="1" y="439" width="2" height="2" fill="#fff" shape-rendering="crispEdges"/>
<rect x="1622" y="437" width="6" height="6" fill="#32cd32" shape-rendering="crispEdges"/>
<rect x="1624" y="439" width="2" height="2" fill="#fff" shape-rendering="crispEdges"/>
<rect x="-1" y="516" width="6" height="6" fill="#0000ff" shape-rendering="crispEdges"/>
<rect x="1" y="518" width="2" height="2" fill="#fff" shape-rendering="crispEdges"/>
<rect x="1622" y="516" width="6" height="6" fill="#0000ff" shape-rendering="crispEdges"/>
<rect x="1624" y="518" width="2" height="2" fill="#fff" shape-rendering="crispEdges"/>
<rect x="-1" y="553" width="6" height="6" fill="#0000ff" shape-rendering="crispEdges"/>
<rect x="1" y="555" width="2" height="2" fill="#fff" shape-rendering="crispEdges"/>
<rect x="1622" y="553" width="6" height="6" fill="#0000ff" shape-rendering="crispEdges"/>
<rect x="1624" y="555" width="2" height="2" fill="#fff" shape-rendering="crispEdges"/>
<text x="1076.9" y="438.7" font-size="32" font-family='"Liberation Serif", "Noto Serif CJK SC", serif' font-weight="bold" fill="#0a6a0a" textLength="165.5" lengthAdjust="spacingAndGlyphs">多空转折点</text>
<text x="1076" y="437.9" font-size="32" font-family='"Liberation Serif", "Noto Serif CJK SC", serif' font-weight="bold" fill="#00ff00" stroke="#00ff00" stroke-width="0.16" textLength="165.5" lengthAdjust="spacingAndGlyphs">多空转折点</text>
<g shape-rendering="crispEdges">
<rect x="1457" y="440" width="8" height="1" fill="#ff0000"/>
<rect x="1464" y="438" width="3" height="4" fill="#ff0000"/>
<rect x="1465" y="439" width="1" height="2" fill="#fff"/>
<rect x="1467" y="424" width="100" height="33" fill="#ff0000"/>
<rect x="1468" y="425" width="98" height="31" fill="#fff"/>
</g>
<text x="1468.6" y="450.8" font-size="28.5" fill="#ff0000" textLength="97" lengthAdjust="spacingAndGlyphs">1.21987</text>
<g shape-rendering="crispEdges">
<rect x="0" y="29" width="1629" height="1" fill="#000"/>
<rect x="0" y="582" width="1629" height="1" fill="#000"/>
<rect x="0" y="584" width="1629" height="1" fill="#000"/>
<rect x="0" y="766" width="1629" height="1" fill="#000"/>
<rect x="0" y="768" width="1629" height="1" fill="#000"/>
<rect x="0" y="929" width="1629" height="1" fill="#000"/>
<rect x="1628" y="29" width="1" height="554" fill="#000"/>
<rect x="1628" y="584" width="1" height="183" fill="#000"/>
<rect x="1628" y="768" width="1" height="162" fill="#000"/>
<rect x="1673" y="25" width="2" height="924" fill="#f0f0f0"/>
<path d="M1460 30 L1469 30 L1464.5 35 Z" fill="#a0a0a0" shape-rendering="auto"/>
</g>
<rect x="1629" y="51" width="2" height="1" fill="#000" shape-rendering="crispEdges"/>
<text x="1634.5" y="55" font-size="10" fill="#000" textLength="32.5" lengthAdjust="spacingAndGlyphs">1.25625</text>
<rect x="1629" y="84" width="2" height="1" fill="#000" shape-rendering="crispEdges"/>
<text x="1634.5" y="88" font-size="10" fill="#000" textLength="32.5" lengthAdjust="spacingAndGlyphs">1.25315</text>
<rect x="1629" y="117" width="2" height="1" fill="#000" shape-rendering="crispEdges"/>
<text x="1634.5" y="121" font-size="10" fill="#000" textLength="32.5" lengthAdjust="spacingAndGlyphs">1.25010</text>
<rect x="1629" y="150" width="2" height="1" fill="#000" shape-rendering="crispEdges"/>
<text x="1634.5" y="154" font-size="10" fill="#000" textLength="32.5" lengthAdjust="spacingAndGlyphs">1.24700</text>
<rect x="1629" y="183" width="2" height="1" fill="#000" shape-rendering="crispEdges"/>
<text x="1634.5" y="187" font-size="10" fill="#000" textLength="32.5" lengthAdjust="spacingAndGlyphs">1.24390</text>
<rect x="1629" y="216" width="2" height="1" fill="#000" shape-rendering="crispEdges"/>
<text x="1634.5" y="220" font-size="10" fill="#000" textLength="32.5" lengthAdjust="spacingAndGlyphs">1.24080</text>
<rect x="1629" y="249" width="2" height="1" fill="#000" shape-rendering="crispEdges"/>
<text x="1634.5" y="253" font-size="10" fill="#000" textLength="32.5" lengthAdjust="spacingAndGlyphs">1.23770</text>
<rect x="1629" y="282" width="2" height="1" fill="#000" shape-rendering="crispEdges"/>
<text x="1634.5" y="286" font-size="10" fill="#000" textLength="32.5" lengthAdjust="spacingAndGlyphs">1.23465</text>
<rect x="1629" y="315" width="2" height="1" fill="#000" shape-rendering="crispEdges"/>
<text x="1634.5" y="319" font-size="10" fill="#000" textLength="32.5" lengthAdjust="spacingAndGlyphs">1.23155</text>
<rect x="1629" y="348" width="2" height="1" fill="#000" shape-rendering="crispEdges"/>
<text x="1634.5" y="352" font-size="10" fill="#000" textLength="32.5" lengthAdjust="spacingAndGlyphs">1.22845</text>
<rect x="1629" y="381" width="2" height="1" fill="#000" shape-rendering="crispEdges"/>
<text x="1634.5" y="385" font-size="10" fill="#000" textLength="32.5" lengthAdjust="spacingAndGlyphs">1.22535</text>
<rect x="1629" y="414" width="2" height="1" fill="#000" shape-rendering="crispEdges"/>
<text x="1634.5" y="418" font-size="10" fill="#000" textLength="32.5" lengthAdjust="spacingAndGlyphs">1.22225</text>
<rect x="1629" y="447" width="2" height="1" fill="#000" shape-rendering="crispEdges"/>
<text x="1634.5" y="451" font-size="10" fill="#000" textLength="32.5" lengthAdjust="spacingAndGlyphs">1.21915</text>
<rect x="1629" y="480" width="2" height="1" fill="#000" shape-rendering="crispEdges"/>
<text x="1634.5" y="484" font-size="10" fill="#000" textLength="32.5" lengthAdjust="spacingAndGlyphs">1.21610</text>
<rect x="1629" y="513" width="2" height="1" fill="#000" shape-rendering="crispEdges"/>
<text x="1634.5" y="517" font-size="10" fill="#000" textLength="32.5" lengthAdjust="spacingAndGlyphs">1.21300</text>
<rect x="1629" y="546" width="2" height="1" fill="#000" shape-rendering="crispEdges"/>
<text x="1634.5" y="550" font-size="10" fill="#000" textLength="32.5" lengthAdjust="spacingAndGlyphs">1.20990</text>
<rect x="1629" y="579" width="2" height="1" fill="#000" shape-rendering="crispEdges"/>
<text x="1634.5" y="583" font-size="10" fill="#000" textLength="32.5" lengthAdjust="spacingAndGlyphs">1.20680</text>
<rect x="1630" y="372" width="41" height="11" fill="#ff4500" shape-rendering="crispEdges"/>
<text x="1634.5" y="381" font-size="10" fill="#fff" textLength="32.5" lengthAdjust="spacingAndGlyphs">1.22567</text>
<rect x="1630" y="401" width="41" height="11" fill="#ff4500" shape-rendering="crispEdges"/>
<text x="1634.5" y="410" font-size="10" fill="#fff" textLength="32.5" lengthAdjust="spacingAndGlyphs">1.22295</text>
<rect x="1630" y="434" width="41" height="11" fill="#32cd32" shape-rendering="crispEdges"/>
<text x="1634.5" y="443" font-size="10" fill="#fff" textLength="32.5" lengthAdjust="spacingAndGlyphs">1.21987</text>
<rect x="1630" y="470" width="41" height="11" fill="#000" shape-rendering="crispEdges"/>
<text x="1634.5" y="479" font-size="10" fill="#fff" textLength="32.5" lengthAdjust="spacingAndGlyphs">1.21659</text>
<rect x="1630" y="513" width="41" height="11" fill="#0000ff" shape-rendering="crispEdges"/>
<text x="1634.5" y="522" font-size="10" fill="#fff" textLength="32.5" lengthAdjust="spacingAndGlyphs">1.21249</text>
<rect x="1630" y="550" width="41" height="11" fill="#0000ff" shape-rendering="crispEdges"/>
<text x="1634.5" y="559" font-size="10" fill="#fff" textLength="32.5" lengthAdjust="spacingAndGlyphs">1.20903</text>
<g shape-rendering="crispEdges">
<rect x="-1" y="614" width="2" height="55" fill="#b8b8b8"/>
<rect x="15" y="614" width="2" height="59" fill="#b8b8b8"/>
<rect x="31" y="614" width="2" height="61" fill="#b8b8b8"/>
<rect x="47" y="614" width="2" height="57" fill="#b8b8b8"/>
<rect x="63" y="614" width="2" height="55" fill="#b8b8b8"/>
<rect x="79" y="614" width="2" height="52" fill="#b8b8b8"/>
<rect x="95" y="614" width="2" height="49" fill="#b8b8b8"/>
<rect x="111" y="614" width="2" height="41" fill="#b8b8b8"/>
<rect x="127" y="614" width="2" height="32" fill="#b8b8b8"/>
<rect x="143" y="614" width="2" height="24" fill="#b8b8b8"/>
<rect x="159" y="614" width="2" height="8" fill="#b8b8b8"/>
<rect x="175" y="611" width="2" height="4" fill="#b8b8b8"/>
<rect x="191" y="602" width="2" height="13" fill="#b8b8b8"/>
<rect x="207" y="598" width="2" height="17" fill="#b8b8b8"/>
<rect x="223" y="594" width="2" height="21" fill="#b8b8b8"/>
<rect x="239" y="596" width="2" height="19" fill="#b8b8b8"/>
<rect x="255" y="598" width="2" height="17" fill="#b8b8b8"/>
<rect x="271" y="598" width="2" height="17" fill="#b8b8b8"/>
<rect x="287" y="599" width="2" height="16" fill="#b8b8b8"/>
<rect x="303" y="604" width="2" height="11" fill="#b8b8b8"/>
<rect x="319" y="611" width="2" height="4" fill="#b8b8b8"/>
<rect x="335" y="614" width="2" height="1" fill="#b8b8b8"/>
<rect x="351" y="614" width="2" height="2" fill="#b8b8b8"/>
<rect x="367" y="614" width="2" height="4" fill="#b8b8b8"/>
<rect x="383" y="614" width="2" height="8" fill="#b8b8b8"/>
<rect x="399" y="614" width="2" height="14" fill="#b8b8b8"/>
<rect x="415" y="614" width="2" height="14" fill="#b8b8b8"/>
<rect x="431" y="614" width="2" height="17" fill="#b8b8b8"/>
<rect x="447" y="614" width="2" height="20" fill="#b8b8b8"/>
<rect x="463" y="614" width="2" height="24" fill="#b8b8b8"/>
<rect x="479" y="614" width="2" height="25" fill="#b8b8b8"/>
<rect x="495" y="614" width="2" height="25" fill="#b8b8b8"/>
<rect x="511" y="614" width="2" height="18" fill="#b8b8b8"/>
<rect x="527" y="614" width="2" height="12" fill="#b8b8b8"/>
<rect x="543" y="614" width="2" height="8" fill="#b8b8b8"/>
<rect x="559" y="614" width="2" height="4" fill="#b8b8b8"/>
<rect x="575" y="614" width="2" height="4" fill="#b8b8b8"/>
<rect x="591" y="614" width="2" height="4" fill="#b8b8b8"/>
<rect x="607" y="614" width="2" height="2" fill="#b8b8b8"/>
<rect x="623" y="614" width="2" height="2" fill="#b8b8b8"/>
<rect x="639" y="614" width="2" height="4" fill="#b8b8b8"/>
<rect x="655" y="614" width="2" height="7" fill="#b8b8b8"/>
<rect x="671" y="614" width="2" height="10" fill="#b8b8b8"/>
<rect x="687" y="614" width="2" height="14" fill="#b8b8b8"/>
<rect x="703" y="614" width="2" height="18" fill="#b8b8b8"/>
<rect x="719" y="614" width="2" height="26" fill="#b8b8b8"/>
<rect x="735" y="614" width="2" height="32" fill="#b8b8b8"/>
<rect x="751" y="614" width="2" height="39" fill="#b8b8b8"/>
<rect x="767" y="614" width="2" height="45" fill="#b8b8b8"/>
<rect x="783" y="614" width="2" height="52" fill="#b8b8b8"/>
<rect x="799" y="614" width="2" height="64" fill="#b8b8b8"/>
<rect x="815" y="614" width="2" height="81" fill="#b8b8b8"/>
<rect x="831" y="614" width="2" height="95" fill="#b8b8b8"/>
<rect x="847" y="614" width="2" height="105" fill="#b8b8b8"/>
<rect x="863" y="614" width="2" height="122" fill="#b8b8b8"/>
<rect x="879" y="614" width="2" height="132" fill="#b8b8b8"/>
<rect x="895" y="614" width="2" height="136" fill="#b8b8b8"/>
<rect x="911" y="614" width="2" height="142" fill="#b8b8b8"/>
<rect x="927" y="614" width="2" height="145" fill="#b8b8b8"/>
<rect x="943" y="614" width="2" height="145" fill="#b8b8b8"/>
<rect x="959" y="614" width="2" height="144" fill="#b8b8b8"/>
<rect x="975" y="614" width="2" height="140" fill="#b8b8b8"/>
<rect x="991" y="614" width="2" height="132" fill="#b8b8b8"/>
<rect x="1007" y="614" width="2" height="120" fill="#b8b8b8"/>
<rect x="1023" y="614" width="2" height="117" fill="#b8b8b8"/>
<rect x="1039" y="614" width="2" height="115" fill="#b8b8b8"/>
<rect x="1055" y="614" width="2" height="115" fill="#b8b8b8"/>
<rect x="1071" y="614" width="2" height="117" fill="#b8b8b8"/>
<rect x="1087" y="614" width="2" height="116" fill="#b8b8b8"/>
<rect x="1103" y="614" width="2" height="110" fill="#b8b8b8"/>
<rect x="1119" y="614" width="2" height="102" fill="#b8b8b8"/>
<rect x="1135" y="614" width="2" height="100" fill="#b8b8b8"/>
<rect x="1151" y="614" width="2" height="101" fill="#b8b8b8"/>
<rect x="1167" y="614" width="2" height="95" fill="#b8b8b8"/>
<rect x="1183" y="614" width="2" height="90" fill="#b8b8b8"/>
<rect x="1199" y="614" width="2" height="85" fill="#b8b8b8"/>
<rect x="1215" y="614" width="2" height="75" fill="#b8b8b8"/>
<rect x="1231" y="614" width="2" height="68" fill="#b8b8b8"/>
<rect x="1247" y="614" width="2" height="63" fill="#b8b8b8"/>
<rect x="1263" y="614" width="2" height="63" fill="#b8b8b8"/>
<rect x="1279" y="614" width="2" height="54" fill="#b8b8b8"/>
<rect x="1295" y="614" width="2" height="47" fill="#b8b8b8"/>
<rect x="1311" y="614" width="2" height="45" fill="#b8b8b8"/>
<rect x="1327" y="614" width="2" height="40" fill="#b8b8b8"/>
<rect x="1343" y="614" width="2" height="34" fill="#b8b8b8"/>
<rect x="1359" y="614" width="2" height="27" fill="#b8b8b8"/>
<rect x="1375" y="614" width="2" height="21" fill="#b8b8b8"/>
<rect x="1391" y="614" width="2" height="21" fill="#b8b8b8"/>
<rect x="1407" y="614" width="2" height="20" fill="#b8b8b8"/>
<rect x="1423" y="614" width="2" height="17" fill="#b8b8b8"/>
</g>
<path d="M0 636.5h1M1 637.5h2M6 639.5h1M7 640.5h1M8 641.5h1M12 643.5h2M14 644.5h1M18 646.5h2M20 647.5h1M24 648.5h1M25 649.5h2M30 651.5h2M32 652.5h1M36 653.5h3M42 655.5h3M48 656.5h1M49 657.5h2M54 658.5h1M55 659.5h2M60 660.5h2M62 661.5h1M66 662.5h3M72 663.5h1M73 664.5h2M78 665.5h3M84 665.5h1M85 666.5h2M90 666.5h3M96 667.5h3M102 667.5h3M108 666.5h3M114 666.5h3M120 665.5h3M126 664.5h3M132 663.5h3M138 662.5h1M139 661.5h2M144 660.5h1M145 659.5h2M150 658.5h2M152 657.5h1M156 656.5h3M162 654.5h3M168 653.5h1M169 652.5h2M174 650.5h1M175 649.5h2M180 647.5h1M181 646.5h2M186 644.5h1M187 643.5h2M192 640.5h2M194 639.5h1M198 637.5h2M200 636.5h1M204 634.5h2M206 633.5h1M210 631.5h2M212 630.5h1M216 628.5h3M222 626.5h2M224 625.5h1M228 623.5h3M234 621.5h2M236 620.5h1M240 619.5h1M241 618.5h2M246 616.5h2M248 615.5h1M252 614.5h1M253 613.5h2M258 611.5h2M260 610.5h1M264 609.5h1M265 608.5h2M270 606.5h3M276 605.5h1M277 604.5h2M282 603.5h3M288 602.5h3M294 601.5h3M300 600.5h3M306 600.5h3M312 600.5h3M318 600.5h3M324 600.5h3M330 600.5h1M331 601.5h2M336 601.5h3M342 601.5h2M344 602.5h1M348 602.5h1M349 603.5h2M354 604.5h3M360 605.5h3M366 606.5h3M372 607.5h3M378 608.5h3M384 609.5h3M390 610.5h3M396 611.5h3M402 612.5h2M404 613.5h1M408 614.5h3M414 615.5h3M420 616.5h3M426 617.5h3M432 618.5h2M434 619.5h1M438 620.5h3M444 621.5h2M446 622.5h1M450 622.5h1M451 623.5h2M456 624.5h3M462 625.5h3M468 626.5h3M474 627.5h3M480 628.5h3M486 629.5h3M492 629.5h2M494 630.5h1M498 630.5h3M504 631.5h3M510 632.5h3M516 632.5h3M522 632.5h3M528 632.5h3M534 632.5h3M540 632.5h3M546 631.5h3M552 631.5h3M558 631.5h1M559 630.5h2M564 630.5h1M565 629.5h2M570 629.5h1M571 628.5h2M576 628.5h2M578 627.5h1M582 627.5h3M588 626.5h3M594 626.5h3M600 625.5h3M606 624.5h3M612 623.5h3M618 622.5h3M624 621.5h3M630 620.5h3M636 620.5h3M642 620.5h1M643 619.5h2M648 619.5h3M654 619.5h3M660 619.5h3M666 618.5h3M672 618.5h3M678 618.5h2M680 619.5h1M684 619.5h3M690 619.5h1M691 620.5h2M696 620.5h3M702 621.5h3M708 622.5h3M714 622.5h2M716 623.5h1M720 623.5h3M726 624.5h3M732 625.5h3M738 626.5h2M740 627.5h1M744 628.5h3M750 629.5h2M752 630.5h1M756 631.5h2M758 632.5h1M762 633.5h1M763 634.5h2M768 635.5h2M770 636.5h1M774 637.5h3M780 638.5h2M782 639.5h1M786 640.5h2M788 641.5h1M792 643.5h3M798 645.5h1M799 646.5h2M804 648.5h2M806 649.5h1M810 651.5h2M812 652.5h1M816 654.5h2M818 655.5h1M822 657.5h2M824 658.5h1M828 660.5h2M830 661.5h1M834 663.5h1M835 664.5h2M840 667.5h1M841 668.5h1M842 669.5h1M846 671.5h1M847 672.5h1M848 673.5h1M852 675.5h1M853 676.5h2M858 678.5h1M859 679.5h1M860 680.5h1M864 682.5h1M865 683.5h2M870 686.5h1M871 687.5h1M872 688.5h1M876 690.5h1M877 691.5h1M878 692.5h1M882 695.5h2M884 696.5h1M888 700.5h2M890 701.5h1M894 704.5h1M895 705.5h1M896 706.5h1M900 709.5h1M901 710.5h2M906 713.5h1M907 714.5h1M908 715.5h1M912 718.5h2M914 719.5h1M918 721.5h1M919 722.5h2M924 724.5h1M925 725.5h2M930 728.5h1M931 729.5h2M936 732.5h2M938 733.5h1M942 735.5h1M943 736.5h2M948 738.5h2M950 739.5h1M954 741.5h3M960 743.5h2M962 744.5h1M966 745.5h3M972 746.5h2M974 747.5h1M978 748.5h3M984 749.5h2M986 750.5h1M990 751.5h3M996 751.5h3M1002 751.5h3M1008 751.5h3M1014 750.5h3M1020 749.5h3M1026 749.5h1M1027 748.5h2M1032 748.5h3M1038 747.5h3M1044 746.5h3M1050 745.5h3M1056 744.5h1M1057 743.5h2M1062 742.5h3M1068 741.5h1M1069 740.5h2M1074 739.5h3M1080 738.5h3M1086 737.5h3M1092 735.5h2M1094 734.5h1M1098 733.5h2M1100 732.5h1M1104 731.5h3M1110 730.5h3M1116 729.5h2M1118 728.5h1M1122 728.5h2M1124 727.5h1M1128 727.5h2M1130 726.5h1M1134 726.5h2M1136 725.5h1M1140 725.5h2M1142 724.5h1M1146 724.5h2M1148 723.5h1M1152 723.5h2M1154 722.5h1M1158 722.5h2M1160 721.5h1M1164 721.5h2M1166 720.5h1M1170 720.5h1M1171 719.5h2M1176 719.5h1M1177 718.5h2M1182 718.5h1M1183 717.5h2M1188 717.5h2M1190 716.5h1M1194 716.5h3M1200 715.5h2M1202 714.5h1M1206 713.5h3M1212 712.5h2M1214 711.5h1M1218 710.5h2M1220 709.5h1M1224 708.5h1M1225 707.5h2M1230 706.5h1M1231 705.5h2M1236 704.5h1M1237 703.5h2M1242 702.5h2M1244 701.5h1M1248 700.5h2M1250 699.5h1M1254 698.5h2M1256 697.5h1M1260 696.5h3M1266 694.5h3M1272 692.5h3M1278 691.5h1M1279 690.5h2M1284 688.5h3M1290 686.5h2M1292 685.5h1M1296 684.5h2M1298 683.5h1M1302 682.5h2M1304 681.5h1M1308 680.5h3M1314 678.5h2M1316 677.5h1M1320 676.5h2M1322 675.5h1M1326 674.5h1M1327 673.5h2M1332 672.5h1M1333 671.5h2M1338 670.5h2M1340 669.5h1M1344 668.5h2M1346 667.5h1M1350 666.5h1M1351 665.5h2M1356 663.5h3M1362 661.5h3M1368 660.5h2M1370 659.5h1M1374 658.5h3M1380 657.5h1M1381 656.5h2M1386 655.5h2M1388 654.5h1M1392 653.5h2M1394 652.5h1M1398 651.5h2M1400 650.5h1M1404 649.5h3M1410 647.5h3M1416 646.5h2M1418 645.5h1M1422 644.5h3" fill="none" stroke="#ff0000" stroke-width="1" shape-rendering="crispEdges"/>
<text x="4" y="597" font-size="10" fill="#000" textLength="154" lengthAdjust="spacingAndGlyphs">MACD(12,26,9) -0.000877 -0.001651</text>
<text x="1632" y="595.5" font-size="10" fill="#000" textLength="37.5" lengthAdjust="spacingAndGlyphs">0.001607</text>
<text x="1632" y="618" font-size="10" fill="#000" textLength="17.5" lengthAdjust="spacingAndGlyphs">0.00</text>
<text x="1632" y="764.6" font-size="10" fill="#000" textLength="41" lengthAdjust="spacingAndGlyphs">-0.008522</text>
<rect x="1629" y="586" width="2" height="1" fill="#000" shape-rendering="crispEdges"/>
<rect x="1629" y="614" width="2" height="1" fill="#000" shape-rendering="crispEdges"/>
<rect x="1629" y="765" width="2" height="1" fill="#000" shape-rendering="crispEdges"/>
<g shape-rendering="crispEdges">
<line x1="1" y1="802.5" x2="1628" y2="802.5" stroke="#b4b4b4" stroke-width="1" stroke-dasharray="3 3"/>
<line x1="1" y1="849.5" x2="1628" y2="849.5" stroke="#b4b4b4" stroke-width="1" stroke-dasharray="3 3"/>
<line x1="1" y1="905.5" x2="1628" y2="905.5" stroke="#b4b4b4" stroke-width="1" stroke-dasharray="3 3"/>
</g>
<path d="M0 886.5h3M3 887.5h5M8 888.5h6M14 889.5h4M18 888.5h2M20 887.5h3M23 886.5h3M26 885.5h2M28 884.5h3M31 883.5h2M33 882.5h1M34 881.5h1M35 880.5h1M36 879.5h2M38 878.5h1M39 877.5h1M40 876.5h1M41 875.5h1M42 874.5h1M43 873.5h1M44 872.5h2M46 871.5h1M47 870.5h1M48 869.5h36M84 868.5h8M92 867.5h5M97 866.5h1M98 865.5h1M99 864.5h1M100 863.5h1M101 862.5h1M102 861.5h1M103 860.5h1M104.5 858v2M105 857.5h1M106 856.5h1M107 855.5h1M108 854.5h1M109 853.5h1M110 852.5h1M111 851.5h1M112 850.5h1M113 849.5h2M115 848.5h2M117 847.5h2M119 846.5h1M120 845.5h2M122 844.5h2M124 843.5h2M126 842.5h2M128 841.5h4M132 840.5h8M140 839.5h5M145 838.5h1M146 837.5h1M147.5 835v2M148 834.5h1M149 833.5h1M150 832.5h1M151 831.5h1M152.5 829v2M153 828.5h1M154 827.5h1M155 826.5h1M156 825.5h1M157.5 823v2M158 822.5h1M159 821.5h1M160 820.5h2M162 821.5h2M164 822.5h3M167 823.5h3M170 824.5h2M172 825.5h3M175 826.5h9M184 825.5h9M193 826.5h2M195 827.5h2M197 828.5h2M199 829.5h1M200 830.5h2M202 831.5h2M204 832.5h2M206 833.5h2M208 834.5h3M211 833.5h5M216 832.5h6M222 831.5h3M225 832.5h1M226 833.5h1M227 834.5h1M228 835.5h1M229 836.5h1M230 837.5h1M231 838.5h1M232.5 839v2M233 841.5h1M234 842.5h1M235 843.5h1M236 844.5h1M237 845.5h1M238 846.5h1M239 847.5h1M240 848.5h18M258 847.5h3M261 846.5h3M264 845.5h4M268 844.5h3M271 843.5h4M275 844.5h5M280 845.5h6M286 846.5h3M289 847.5h2M291 848.5h2M293 849.5h2M295 850.5h1M296 851.5h2M298 852.5h2M300 853.5h2M302 854.5h2M304 855.5h1M305 856.5h2M307 857.5h2M309 858.5h2M311 859.5h2M313 860.5h2M315 861.5h2M317 862.5h2M319 863.5h2M321 862.5h2M323 861.5h2M325 860.5h2M327 859.5h2M329 858.5h2M331 857.5h2M333 856.5h2M335 855.5h9M344 854.5h11M355 855.5h5M360 856.5h6M366 857.5h4M370 858.5h4M374 859.5h4M378 860.5h4M382 861.5h4M386 862.5h2M388 863.5h3M391 864.5h3M394 865.5h2M396 866.5h3M399 867.5h2M401 866.5h2M403 865.5h2M405 864.5h2M407 863.5h2M409 862.5h2M411 861.5h2M413 860.5h2M415 859.5h3M418 860.5h4M422 861.5h4M426 862.5h4M430 863.5h5M435 864.5h5M440 865.5h6M446 866.5h21M467 867.5h5M472 868.5h6M478 869.5h3M481 868.5h2M483 867.5h2M485 866.5h2M487 865.5h2M489 864.5h2M491 863.5h2M493 862.5h2M495 861.5h2M497.5 859v2M498 858.5h1M499 857.5h1M500.5 855v2M501 854.5h1M502 853.5h1M503.5 851v2M504 850.5h1M505.5 848v2M506 847.5h1M507 846.5h1M508.5 844v2M509 843.5h1M510 842.5h1M511.5 840v2M512 839.5h18M530 840.5h2M532 841.5h3M535 842.5h3M538 843.5h2M540 844.5h3M543 845.5h9M552 844.5h10M562 845.5h2M564 846.5h3M567 847.5h3M570 848.5h2M572 849.5h3M575 850.5h4M579 849.5h5M584 848.5h6M590 847.5h5M595 846.5h5M600 845.5h6M606 844.5h3M609 845.5h2M611 846.5h2M613 847.5h2M615 848.5h2M617 849.5h2M619 850.5h2M621 851.5h2M623 852.5h2M625 853.5h2M627 854.5h2M629 855.5h2M631 856.5h2M633 857.5h2M635 858.5h2M637 859.5h2M639 860.5h9M648 859.5h11M659 860.5h5M664 861.5h6M670 862.5h4M674 863.5h2M676 864.5h2M678 865.5h2M680 866.5h3M683 867.5h2M685 868.5h2M687 869.5h4M691 868.5h5M696 867.5h6M702 866.5h3M705 867.5h1M706 868.5h1M707 869.5h1M708 870.5h2M710 871.5h1M711 872.5h1M712 873.5h1M713 874.5h1M714 875.5h1M715 876.5h1M716 877.5h2M718 878.5h1M719 879.5h1M720 880.5h8M728 881.5h12M740 882.5h8M748 883.5h7M755 884.5h5M760 885.5h6M766 886.5h4M770 887.5h2M772 888.5h3M775 889.5h3M778 890.5h2M780 891.5h3M783 892.5h3M786 893.5h2M788 894.5h3M791 895.5h3M794 896.5h2M796 897.5h3M799 898.5h2M801 899.5h2M803 900.5h2M805 901.5h2M807 902.5h2M809 903.5h2M811 904.5h2M813 905.5h2M815 906.5h9M824 907.5h26M850 908.5h3M853 909.5h3M856 910.5h4M860 911.5h3M863 912.5h4M867 911.5h5M872 910.5h6M878 909.5h4M882 908.5h2M884 907.5h3M887 906.5h3M890 905.5h2M892 904.5h3M895 903.5h5M900 904.5h8M908 905.5h6M914 904.5h3M917 903.5h3M920 902.5h4M924 901.5h3M927 900.5h25M952 901.5h10M962 900.5h2M964 899.5h2M966 898.5h2M968 897.5h3M971 896.5h2M973 895.5h2M975 894.5h3M978 893.5h2M980 892.5h3M983 891.5h3M986 890.5h2M988 889.5h3M991 888.5h2M993 887.5h1M994.5 885v2M995 884.5h1M996 883.5h1M997.5 881v2M998 880.5h1M999 879.5h1M1000.5 877v2M1001 876.5h1M1002 875.5h1M1003.5 873v2M1004 872.5h1M1005 871.5h1M1006.5 869v2M1007 868.5h1M1008 867.5h1M1009 868.5h1M1010 869.5h2M1012 870.5h1M1013 871.5h1M1014 872.5h2M1016 873.5h1M1017 874.5h1M1018 875.5h2M1020 876.5h1M1021 877.5h1M1022 878.5h2M1024 879.5h4M1028 880.5h8M1036 881.5h6M1042 882.5h3M1045 883.5h3M1048 884.5h4M1052 885.5h3M1055 886.5h5M1060 887.5h8M1068 888.5h7M1075 887.5h5M1080 886.5h6M1086 885.5h3M1089 884.5h2M1091 883.5h1M1092 882.5h2M1094 881.5h1M1095 880.5h1M1096 879.5h2M1098 878.5h1M1099 877.5h2M1101 876.5h1M1102 875.5h2M1104 874.5h2M1106 873.5h4M1110 872.5h4M1114 871.5h4M1118 870.5h4M1122 871.5h2M1124 872.5h2M1126 873.5h2M1128 874.5h3M1131 875.5h2M1133 876.5h2M1135 877.5h3M1138 878.5h2M1140 879.5h3M1143 880.5h3M1146 881.5h2M1148 882.5h3M1151 883.5h2M1153 882.5h1M1154 881.5h1M1155 880.5h1M1156 879.5h1M1157 878.5h1M1158 877.5h1M1159 876.5h1M1160 875.5h2M1162 874.5h1M1163 873.5h1M1164 872.5h1M1165 871.5h1M1166 870.5h1M1167 869.5h1M1168 868.5h8M1176 869.5h12M1188 868.5h8M1196 867.5h5M1201 866.5h2M1203 865.5h2M1205 864.5h2M1207 863.5h1M1208 862.5h2M1210 861.5h2M1212 860.5h2M1214 859.5h2M1216 858.5h4M1220 859.5h8M1228 860.5h12M1240 861.5h9M1249 862.5h2M1251 863.5h2M1253 864.5h2M1255 865.5h1M1256 866.5h2M1258 867.5h2M1260 868.5h2M1262 869.5h2M1264 870.5h1M1265 869.5h1M1266 868.5h1M1267 867.5h1M1268 866.5h1M1269 865.5h1M1270 864.5h1M1271 863.5h1M1272.5 861v2M1273 860.5h1M1274 859.5h1M1275 858.5h1M1276 857.5h1M1277 856.5h1M1278 855.5h1M1279 854.5h1M1280 853.5h18M1298 854.5h3M1301 855.5h3M1304 856.5h4M1308 857.5h3M1311 858.5h3M1314 857.5h4M1318 856.5h4M1322 855.5h4M1326 854.5h6M1332 853.5h8M1340 852.5h6M1346 851.5h2M1348 850.5h2M1350 849.5h2M1352 848.5h3M1355 847.5h2M1357 846.5h2M1359 845.5h4M1363 846.5h5M1368 847.5h6M1374 848.5h3M1377 849.5h2M1379 850.5h2M1381 851.5h2M1383 852.5h2M1385 853.5h2M1387 854.5h2M1389 855.5h2M1391 856.5h3M1394 855.5h4M1398 854.5h4M1402 853.5h4M1406 852.5h5M1411 851.5h5M1416 850.5h6M1422 849.5h3" fill="none" stroke="#1e90ff" stroke-width="1" shape-rendering="crispEdges"/>
<text x="4" y="782" font-size="10" fill="#000" textLength="68" lengthAdjust="spacingAndGlyphs">RSI(14) 49.5706</text>
<text x="1632" y="780.5" font-size="10" fill="#000" textLength="14.5" lengthAdjust="spacingAndGlyphs">100</text>
<text x="1632" y="806.3" font-size="10" fill="#000" textLength="9.5" lengthAdjust="spacingAndGlyphs">80</text>
<text x="1632" y="853.3" font-size="10" fill="#000" textLength="9.5" lengthAdjust="spacingAndGlyphs">50</text>
<text x="1632" y="909.3" font-size="10" fill="#000" textLength="9.5" lengthAdjust="spacingAndGlyphs">15</text>
<text x="1632" y="926" font-size="10" fill="#000" textLength="4.8" lengthAdjust="spacingAndGlyphs">0</text>
<rect x="1629" y="771" width="2" height="1" fill="#000" shape-rendering="crispEdges"/>
<rect x="1629" y="802" width="2" height="1" fill="#000" shape-rendering="crispEdges"/>
<rect x="1629" y="849" width="2" height="1" fill="#000" shape-rendering="crispEdges"/>
<rect x="1629" y="905" width="2" height="1" fill="#000" shape-rendering="crispEdges"/>
<rect x="1629" y="927" width="2" height="1" fill="#000" shape-rendering="crispEdges"/>
<rect x="0" y="930" width="1" height="3" fill="#000" shape-rendering="crispEdges"/>
<text x="0.4" y="942" font-size="10" fill="#000" textLength="45.4" lengthAdjust="spacingAndGlyphs">17 Jul 2019</text>
<rect x="64" y="930" width="1" height="3" fill="#000" shape-rendering="crispEdges"/>
<text x="64.4" y="942" font-size="10" fill="#000" textLength="49.2" lengthAdjust="spacingAndGlyphs">17 Jul 16:00</text>
<rect x="128" y="930" width="1" height="3" fill="#000" shape-rendering="crispEdges"/>
<text x="128.4" y="942" font-size="10" fill="#000" textLength="49.2" lengthAdjust="spacingAndGlyphs">18 Jul 08:00</text>
<rect x="192" y="930" width="1" height="3" fill="#000" shape-rendering="crispEdges"/>
<text x="192.4" y="942" font-size="10" fill="#000" textLength="49.2" lengthAdjust="spacingAndGlyphs">19 Jul 00:00</text>
<rect x="256" y="930" width="1" height="3" fill="#000" shape-rendering="crispEdges"/>
<text x="256.4" y="942" font-size="10" fill="#000" textLength="49.2" lengthAdjust="spacingAndGlyphs">19 Jul 16:00</text>
<rect x="320" y="930" width="1" height="3" fill="#000" shape-rendering="crispEdges"/>
<text x="320.4" y="942" font-size="10" fill="#000" textLength="49.2" lengthAdjust="spacingAndGlyphs">22 Jul 08:00</text>
<rect x="384" y="930" width="1" height="3" fill="#000" shape-rendering="crispEdges"/>
<text x="384.4" y="942" font-size="10" fill="#000" textLength="49.2" lengthAdjust="spacingAndGlyphs">23 Jul 00:00</text>
<rect x="448" y="930" width="1" height="3" fill="#000" shape-rendering="crispEdges"/>
<text x="448.4" y="942" font-size="10" fill="#000" textLength="49.2" lengthAdjust="spacingAndGlyphs">23 Jul 16:00</text>
<rect x="512" y="930" width="1" height="3" fill="#000" shape-rendering="crispEdges"/>
<text x="512.4" y="942" font-size="10" fill="#000" textLength="49.2" lengthAdjust="spacingAndGlyphs">24 Jul 08:00</text>
<rect x="576" y="930" width="1" height="3" fill="#000" shape-rendering="crispEdges"/>
<text x="576.4" y="942" font-size="10" fill="#000" textLength="49.2" lengthAdjust="spacingAndGlyphs">25 Jul 00:00</text>
<rect x="640" y="930" width="1" height="3" fill="#000" shape-rendering="crispEdges"/>
<text x="640.4" y="942" font-size="10" fill="#000" textLength="49.2" lengthAdjust="spacingAndGlyphs">25 Jul 16:00</text>
<rect x="704" y="930" width="1" height="3" fill="#000" shape-rendering="crispEdges"/>
<text x="704.4" y="942" font-size="10" fill="#000" textLength="49.2" lengthAdjust="spacingAndGlyphs">26 Jul 08:00</text>
<rect x="768" y="930" width="1" height="3" fill="#000" shape-rendering="crispEdges"/>
<text x="768.4" y="942" font-size="10" fill="#000" textLength="49.2" lengthAdjust="spacingAndGlyphs">29 Jul 00:00</text>
<rect x="832" y="930" width="1" height="3" fill="#000" shape-rendering="crispEdges"/>
<text x="832.4" y="942" font-size="10" fill="#000" textLength="49.2" lengthAdjust="spacingAndGlyphs">29 Jul 16:00</text>
<rect x="896" y="930" width="1" height="3" fill="#000" shape-rendering="crispEdges"/>
<text x="896.4" y="942" font-size="10" fill="#000" textLength="49.2" lengthAdjust="spacingAndGlyphs">30 Jul 08:00</text>
<rect x="960" y="930" width="1" height="3" fill="#000" shape-rendering="crispEdges"/>
<text x="960.4" y="942" font-size="10" fill="#000" textLength="49.2" lengthAdjust="spacingAndGlyphs">31 Jul 00:00</text>
<rect x="1024" y="930" width="1" height="3" fill="#000" shape-rendering="crispEdges"/>
<text x="1024.4" y="942" font-size="10" fill="#000" textLength="49.2" lengthAdjust="spacingAndGlyphs">31 Jul 16:00</text>
<rect x="1088" y="930" width="1" height="3" fill="#000" shape-rendering="crispEdges"/>
<text x="1088.4" y="942" font-size="10" fill="#000" textLength="50.4" lengthAdjust="spacingAndGlyphs">1 Aug 08:00</text>
<rect x="1152" y="930" width="1" height="3" fill="#000" shape-rendering="crispEdges"/>
<text x="1152.4" y="942" font-size="10" fill="#000" textLength="50.4" lengthAdjust="spacingAndGlyphs">2 Aug 00:00</text>
<rect x="1216" y="930" width="1" height="3" fill="#000" shape-rendering="crispEdges"/>
<text x="1216.4" y="942" font-size="10" fill="#000" textLength="50.4" lengthAdjust="spacingAndGlyphs">2 Aug 16:00</text>
<rect x="1280" y="930" width="1" height="3" fill="#000" shape-rendering="crispEdges"/>
<text x="1280.4" y="942" font-size="10" fill="#000" textLength="50.4" lengthAdjust="spacingAndGlyphs">5 Aug 08:00</text>
<rect x="1344" y="930" width="1" height="3" fill="#000" shape-rendering="crispEdges"/>
<text x="1344.4" y="942" font-size="10" fill="#000" textLength="50.4" lengthAdjust="spacingAndGlyphs">6 Aug 00:00</text>
<rect x="1408" y="930" width="1" height="3" fill="#000" shape-rendering="crispEdges"/>
<text x="1408.4" y="942" font-size="10" fill="#000" textLength="50.4" lengthAdjust="spacingAndGlyphs">6 Aug 16:00</text>
<path d="M3.5 40.5 L10 40.5 L6.75 36 Z" fill="#000"/>
<text x="15.5" y="41" font-size="10" fill="#000" textLength="55.5" lengthAdjust="spacingAndGlyphs">GBPUSD-,H4</text>
<text x="77.5" y="41" font-size="10" fill="#000" textLength="141" lengthAdjust="spacingAndGlyphs">1.21611 1.21679 1.21584 1.21659</text>
<g shape-rendering="crispEdges">
<rect x="3" y="47" width="221" height="66" fill="#fff"/>
<rect x="224" y="71" width="1" height="39" fill="#000"/>
<rect x="3" y="49" width="52" height="25" fill="url(#gb1)"/>
<rect x="170" y="49" width="52" height="25" fill="url(#gb1)"/>
<rect x="3" y="74" width="109" height="39" fill="url(#gb2)"/>
<rect x="114" y="74" width="108" height="39" fill="url(#gb2)"/>
<rect x="7" y="73" width="44" height="1" fill="#8c8cf0"/>
<rect x="174" y="73" width="44" height="1" fill="#8c8cf0"/>
<rect x="3" y="49" width="1" height="64" fill="#1818b0"/>
<rect x="221" y="49" width="1" height="64" fill="#1818b0"/>
<rect x="3" y="112" width="109" height="1" fill="#0a0a90"/>
<rect x="114" y="112" width="108" height="1" fill="#0a0a90"/>
<rect x="57" y="49" width="111" height="22" fill="#a8a8a8"/>
<rect x="58" y="50" width="109" height="20" fill="#fff"/>
<rect x="58" y="50" width="20" height="20" fill="url(#gbtn)"/>
<rect x="147" y="50" width="20" height="20" fill="url(#gbtn)"/>
<rect x="78" y="50" width="1" height="20" fill="#b8b8b8"/>
<rect x="146" y="50" width="1" height="20" fill="#b8b8b8"/>
</g>
<path d="M65 58.5 L71 58.5 L68 62 Z" fill="#000"/>
<path d="M154 61.5 L160 61.5 L157 58 Z" fill="#000"/>
<text x="142.5" y="63.5" font-size="12" fill="#222" text-anchor="end" textLength="22" lengthAdjust="spacingAndGlyphs">1.00</text>
<text x="15.5" y="65" font-size="12.5" fill="#fff" textLength="25.5" lengthAdjust="spacingAndGlyphs">SELL</text>
<text x="184" y="65" font-size="12.5" fill="#fff" textLength="22.5" lengthAdjust="spacingAndGlyphs">BUY</text>
<text x="23.5" y="104" font-size="12" fill="#fff" textLength="22.5" lengthAdjust="spacingAndGlyphs" font-weight="bold">1.21</text>
<text x="51" y="104" font-size="33" fill="#fff" textLength="33.5" lengthAdjust="spacingAndGlyphs">65</text>
<text x="90.3" y="88" font-size="11.5" fill="#fff" textLength="6.6" lengthAdjust="spacingAndGlyphs" font-weight="bold">9</text>
<text x="134" y="104" font-size="12" fill="#fff" textLength="22" lengthAdjust="spacingAndGlyphs" font-weight="bold">1.21</text>
<text x="162" y="104" font-size="33" fill="#fff" textLength="33.5" lengthAdjust="spacingAndGlyphs">73</text>
<text x="201.3" y="88" font-size="11.5" fill="#fff" textLength="6.8" lengthAdjust="spacingAndGlyphs" font-weight="bold">4</text>
<g id="toolbar">
<rect x="0" y="0" width="1675" height="25" fill="#f0f0f0" shape-rendering="crispEdges"/>
<rect x="0" y="25" width="1674" height="1" fill="#a0a0a0" shape-rendering="crispEdges"/>
<rect x="0" y="26" width="1674" height="1" fill="#696969" shape-rendering="crispEdges"/>
<path d="M0 5.5 H7.5 L10.5 8.5 V18.5 H0 Z" fill="#fff" stroke="#9a9a9a" stroke-width="1"/>
<path d="M7.5 5.5 V8.5 H10.5" fill="#e8e8e8" stroke="#9a9a9a" stroke-width="0.8"/>
<rect x="1.5" y="8" width="4" height="1.2" fill="#8a8a8a"/>
<rect x="1" y="11" width="6" height="1" fill="#b0b0b0"/>
<rect x="1" y="13.3" width="5" height="1" fill="#b0b0b0"/>
<path d="M7.5 11.5 h4 v3.8 h3.8 v4 h-3.8 v3.7 h-4 v-3.7 h-3.8 v-4 h3.8 z" fill="#2fd32f" stroke="#0d8f0d" stroke-width="1"/>
<text x="17.7" y="15.9" font-size="12.2" font-family='"Liberation Sans", "Noto Sans CJK SC", sans-serif' fill="#000" stroke="#000" stroke-width="0.3" textLength="36" lengthAdjust="spacingAndGlyphs">新订单</text>
<path d="M71.5 6.2 L81 12.6 L81.8 15 L74 20.8 L66.2 14.8 Q69.6 11.4 70.3 7.6 Z" fill="#d9a01c" stroke="#9a6a08" stroke-width="1" stroke-linejoin="round"/>
<path d="M71.9 7.6 L79.8 12.9 L73.6 17.8 L68.4 13.8 Q70.6 11 71.9 7.6 Z" fill="url(#gbook)"/>
<path d="M67 15.1 L73.9 20.2" stroke="#f7dc7a" stroke-width="1.3" fill="none"/>
<path d="M74.6 19.7 L81.2 14.7" stroke="#e6d6a0" stroke-width="1" fill="none"/>
<path d="M96.2 5.6 L104.6 5.2 L107.1 7.4 V14.6 H99.4 L96.2 13.9 Z" fill="#1f9bff" stroke="#1a86ee" stroke-width="0.6"/>
<path d="M96.2 5.6 L99.4 7.5 V14.6 L96.2 13.9 Z" fill="#1488f2"/>
<path d="M96.2 5.6 L104.6 5.2 L107.1 7.4 H99.4 Z" fill="#45b0ff"/>
<path d="M96.5 5.9 L99.4 7.6 V13" stroke="#d6efff" stroke-width="0.8" fill="none"/>
<rect x="101" y="9.3" width="5" height="1.3" fill="#c8e8ff"/>
<path d="M96.6 20.6 Q93.9 19.6 94.6 17.2 Q95.2 15.6 97.4 15.8 Q97.8 13.6 100.2 13.6 Q101.6 12.6 103.2 13.3 Q104.8 14 105 15.4 Q106.8 14.6 108.2 15.8 Q109.4 16.2 109.6 18 Q109.8 20 107.6 20.6 Z" fill="url(#gcloud)" stroke="#4a6cb0" stroke-width="1"/>
<circle cx="130" cy="12.9" r="7.6" fill="#e9eef2"/>
<path d="M130 12.9 L130 20.5 A7.6 7.6 0 0 0 136.8 9.4 Z" fill="#7cc47c"/>
<path d="M130 12.9 L130 18 A5 5 0 0 0 134.6 10.6 Z" fill="#a9d9a9"/>
<path d="M130 5.4 A7.5 7.5 0 0 1 137.2 10.6" fill="none" stroke="#9ccf9c" stroke-width="1.1"/>
<path d="M130 5.4 A7.5 7.5 0 0 0 125.6 19" fill="none" stroke="#7f9fe0" stroke-width="1.2"/>
<path d="M130 8 A4.9 4.9 0 0 0 127 16.8" fill="none" stroke="#5c84da" stroke-width="1.2"/>
<path d="M130 8 A4.9 4.9 0 0 1 134.7 11.4" fill="none" stroke="#b9d3ee" stroke-width="1"/>
<circle cx="130" cy="12.6" r="1.9" fill="#2a55d0"/>
<rect x="129.4" y="13.4" width="1.3" height="7.2" fill="#1fa01f"/>
<path d="M150 12 L161 12 L158.5 20.5 L155 20.5 Z" fill="#f6d84a" stroke="#c9a21a" stroke-width="0.9"/>
<ellipse cx="157.2" cy="10.2" rx="7.8" ry="2.9" fill="#4aa3e2" stroke="#2b7fc4" stroke-width="0.8"/>
<path d="M153.2 9.6 a4.1 4.6 0 0 1 8.2 0 Z" fill="#6cbcf0" stroke="#2b7fc4" stroke-width="0.8"/>
<circle cx="161.6" cy="16.9" r="4.2" fill="#e02a1a" stroke="#b01208" stroke-width="0.6"/>
<rect x="159.8" y="15.1" width="3.6" height="3.6" fill="#fff"/>
<text x="170" y="16" font-size="12.2" font-family='"Liberation Sans", "Noto Sans CJK SC", sans-serif' fill="#000" stroke="#000" stroke-width="0.3" textLength="47" lengthAdjust="spacingAndGlyphs">自动交易</text>
<rect x="225" y="0" width="1" height="25" fill="#a0a0a0" shape-rendering="crispEdges"/>
<rect x="226" y="0" width="1" height="25" fill="#fff" shape-rendering="crispEdges"/>
<rect x="229" y="3" width="3" height="1" fill="#a8a8a8" shape-rendering="crispEdges"/>
<rect x="229" y="5" width="3" height="1" fill="#a8a8a8" shape-rendering="crispEdges"/>
<rect x="229" y="7" width="3" height="1" fill="#a8a8a8" shape-rendering="crispEdges"/>
<rect x="229" y="9" width="3" height="1" fill="#a8a8a8" shape-rendering="crispEdges"/>
<rect x="229" y="11" width="3" height="1" fill="#a8a8a8" shape-rendering="crispEdges"/>
<rect x="229" y="13" width="3" height="1" fill="#a8a8a8" shape-rendering="crispEdges"/>
<rect x="229" y="15" width="3" height="1" fill="#a8a8a8" shape-rendering="crispEdges"/>
<rect x="229" y="17" width="3" height="1" fill="#a8a8a8" shape-rendering="crispEdges"/>
<rect x="229" y="19" width="3" height="1" fill="#a8a8a8" shape-rendering="crispEdges"/>
<rect x="229" y="21" width="3" height="1" fill="#a8a8a8" shape-rendering="crispEdges"/>
<g stroke="#505050" stroke-width="1.1" fill="#505050"><line x1="243.5" y1="8" x2="243.5" y2="21"/><line x1="240.5" y1="18.7" x2="254.3" y2="18.7"/><path d="M241.7 9.6 L243.5 6.8 L245.3 9.6 Z" stroke="none"/><path d="M252.70000000000002 16.9 L255.5 18.7 L252.70000000000002 20.5 Z" stroke="none"/></g>
<path d="M249.6 9 V16.4 M249.6 9.6 H252 M247.2 15.6 H249.6" stroke="#0f8a0f" stroke-width="1.4" fill="none"/>
<rect x="263" y="1" width="25" height="22" fill="url(#chk)" shape-rendering="crispEdges"/>
<rect x="263" y="1" width="25" height="1" fill="#a0a0a0" shape-rendering="crispEdges"/>
<rect x="263" y="1" width="1" height="22" fill="#a0a0a0" shape-rendering="crispEdges"/>
<rect x="287" y="1" width="1" height="22" fill="#fff" shape-rendering="crispEdges"/>
<rect x="263" y="22" width="25" height="1" fill="#fff" shape-rendering="crispEdges"/>
<g stroke="#505050" stroke-width="1.1" fill="#505050"><line x1="271.4" y1="8" x2="271.4" y2="21"/><line x1="268.6" y1="18.7" x2="282.2" y2="18.7"/><path d="M269.59999999999997 9.6 L271.4 6.8 L273.2 9.6 Z" stroke="none"/><path d="M280.59999999999997 16.9 L283.4 18.7 L280.59999999999997 20.5 Z" stroke="none"/></g>
<rect x="277" y="5" width="1" height="12" fill="#0a8a0a" shape-rendering="crispEdges"/>
<rect x="275.4" y="7.4" width="4.2" height="7.2" fill="#3fe03f" stroke="#0a8a0a" stroke-width="1"/>
<g stroke="#505050" stroke-width="1.1" fill="#505050"><line x1="299.4" y1="8" x2="299.4" y2="21"/><line x1="296.8" y1="18.7" x2="310" y2="18.7"/><path d="M297.59999999999997 9.6 L299.4 6.8 L301.2 9.6 Z" stroke="none"/><path d="M308.4 16.9 L311.2 18.7 L308.4 20.5 Z" stroke="none"/></g>
<path d="M298.4 15.6 Q302 10 304.2 10.4 Q306.5 11 309.8 14.2" stroke="#2f9a2f" stroke-width="1.2" fill="none"/>
<rect x="320" y="2" width="1" height="21" fill="#a0a0a0" shape-rendering="crispEdges"/>
<line x1="338.7" y1="15.4" x2="344.09999999999997" y2="19.8" stroke="#b78c10" stroke-width="3.4" stroke-linecap="round"/>
<line x1="339.09999999999997" y1="15.4" x2="343.9" y2="19.3" stroke="#f0d24a" stroke-width="1.6" stroke-linecap="round"/>
<circle cx="334.7" cy="11.1" r="5.5" fill="#d4ecfb" stroke="#3f7fd6" stroke-width="1.3"/>
<rect x="331.7" y="10.3" width="6" height="1.7" fill="#4685b8"/>
<rect x="333.84999999999997" y="8.1" width="1.7" height="6" fill="#4685b8"/>
<line x1="367" y1="15.4" x2="372.4" y2="19.8" stroke="#b78c10" stroke-width="3.4" stroke-linecap="round"/>
<line x1="367.4" y1="15.4" x2="372.2" y2="19.3" stroke="#f0d24a" stroke-width="1.6" stroke-linecap="round"/>
<circle cx="363" cy="11.1" r="5.5" fill="#d4ecfb" stroke="#3f7fd6" stroke-width="1.3"/>
<rect x="360" y="10.3" width="6" height="1.7" fill="#4685b8"/>
<rect x="385" y="5" width="8" height="8" fill="#4aa81e"/>
<rect x="385" y="5" width="8" height="2.4" fill="#3d9a14"/>
<path d="M386.3 8 h5.4 v3.6 h-1.1 v-1.2 h-3.2 v1.2 h-1.1 z" fill="#fff"/>
<rect x="387.5" y="9" width="3" height="0.8" fill="#4aa81e" opacity="0.5"/>
<rect x="386" y="5.9" width="1" height="1" fill="#fff" opacity="0.8"/>
<rect x="393" y="5" width="8" height="8" fill="#2a5ad8"/>
<rect x="393" y="5" width="8" height="2.4" fill="#1c46c0"/>
<path d="M394.3 8 h5.4 v3.6 h-1.1 v-1.2 h-3.2 v1.2 h-1.1 z" fill="#fff"/>
<rect x="395.5" y="9" width="3" height="0.8" fill="#2a5ad8" opacity="0.5"/>
<rect x="394" y="5.9" width="1" height="1" fill="#fff" opacity="0.8"/>
<rect x="385" y="13" width="8" height="8" fill="#2a5ad8"/>
<rect x="385" y="13" width="8" height="2.4" fill="#1c46c0"/>
<path d="M386.3 16 h5.4 v3.6 h-1.1 v-1.2 h-3.2 v1.2 h-1.1 z" fill="#fff"/>
<rect x="387.5" y="17" width="3" height="0.8" fill="#2a5ad8" opacity="0.5"/>
<rect x="386" y="13.9" width="1" height="1" fill="#fff" opacity="0.8"/>
<rect x="393" y="13" width="8" height="8" fill="#4aa81e"/>
<rect x="393" y="13" width="8" height="2.4" fill="#3d9a14"/>
<path d="M394.3 16 h5.4 v3.6 h-1.1 v-1.2 h-3.2 v1.2 h-1.1 z" fill="#fff"/>
<rect x="395.5" y="17" width="3" height="0.8" fill="#4aa81e" opacity="0.5"/>
<rect x="394" y="13.9" width="1" height="1" fill="#fff" opacity="0.8"/>
<rect x="410" y="2" width="1" height="21" fill="#a0a0a0" shape-rendering="crispEdges"/>
<rect x="415" y="1" width="25" height="22" fill="url(#chk)" shape-rendering="crispEdges"/>
<rect x="415" y="1" width="25" height="1" fill="#a0a0a0" shape-rendering="crispEdges"/>
<rect x="415" y="1" width="1" height="22" fill="#a0a0a0" shape-rendering="crispEdges"/>
<rect x="439" y="1" width="1" height="22" fill="#fff" shape-rendering="crispEdges"/>
<rect x="415" y="22" width="25" height="1" fill="#fff" shape-rendering="crispEdges"/>
<g stroke="#505050" stroke-width="1.1" fill="#505050"><line x1="423.3" y1="8" x2="423.3" y2="21"/><line x1="420.8" y1="18.7" x2="434.2" y2="18.7"/><path d="M421.5 9.6 L423.3 6.8 L425.1 9.6 Z" stroke="none"/><path d="M432.59999999999997 16.9 L435.4 18.7 L432.59999999999997 20.5 Z" stroke="none"/></g>
<path d="M428.2 9.2 L431.8 12.4 L428.2 15.6 Z" fill="#4fe04f" stroke="#1a9a1a" stroke-width="0.9"/>
<rect x="443" y="1" width="25" height="22" fill="url(#chk)" shape-rendering="crispEdges"/>
<rect x="443" y="1" width="25" height="1" fill="#a0a0a0" shape-rendering="crispEdges"/>
<rect x="443" y="1" width="1" height="22" fill="#a0a0a0" shape-rendering="crispEdges"/>
<rect x="467" y="1" width="1" height="22" fill="#fff" shape-rendering="crispEdges"/>
<rect x="443" y="22" width="25" height="1" fill="#fff" shape-rendering="crispEdges"/>
<g stroke="#505050" stroke-width="1.1" fill="#505050"><line x1="451.3" y1="8" x2="451.3" y2="21"/><line x1="448.8" y1="18.7" x2="462.2" y2="18.7"/><path d="M449.5 9.6 L451.3 6.8 L453.1 9.6 Z" stroke="none"/><path d="M460.59999999999997 16.9 L463.4 18.7 L460.59999999999997 20.5 Z" stroke="none"/></g>
<rect x="457" y="7" width="1.3" height="10" fill="#1670a0"/>
<path d="M458.6 12.5 L461.4 10.3 L460.9 12 H463.4 V13 H460.9 L461.4 14.7 Z" fill="#d04a08"/>
<rect x="472" y="2" width="1" height="21" fill="#a0a0a0" shape-rendering="crispEdges"/>
<path d="M482 5.8 H490.5 L493.8 9 V18.2 H482 Z" fill="#fbfbfb" stroke="#9a9a9a" stroke-width="1"/>
<path d="M490.5 5.8 V9 H493.8" fill="#e4e4e4" stroke="#9a9a9a" stroke-width="0.8"/>
<path d="M487.2 8.2 q-1.9 -0.3 -1.9 1.6 V15.6 M484.2 11.3 H486.6" stroke="#555" stroke-width="1" fill="none"/>
<path d="M490.4 11.2 h3.9 v3.7 h3.7 v3.9 h-3.7 v3.7 h-3.9 v-3.7 h-3.7 v-3.9 h3.7 z" fill="#2fd32f" stroke="#0d8f0d" stroke-width="1"/>
<path d="M503.9 12 h5.6 l-2.8 3 z" fill="#000"/>
<circle cx="527.8" cy="13" r="6.5" fill="#fbfcfe" stroke="url(#gclock)" stroke-width="3"/>
<circle cx="527.8" cy="13" r="8" fill="none" stroke="#0f4a9e" stroke-width="0.6"/>
<path d="M527.8 9.6 V13.4 H530.4" stroke="#333" stroke-width="1.2" fill="none"/>
<path d="M527.8 8.6 v0.8 M527.8 16.6 v0.8 M523.4 13 h0.8 M531.4 13 h0.8" stroke="#8aa" stroke-width="0.8"/>
<path d="M542.9 12 h5.6 l-2.8 3 z" fill="#000"/>
<rect x="559.4" y="6.2" width="15.4" height="13.6" fill="#fff" stroke="#3f7fd6" stroke-width="1.3"/>
<rect x="560" y="6.8" width="14.2" height="2.6" fill="#7eb2ee"/>
<rect x="560" y="13.6" width="14.2" height="1.2" fill="#3f7fd6"/>
<path d="M561.6 12.4 l2.4 -0.3 l2 -1.6 l2.3 0.9 l2.2 -0.6 l1.8 -0.7" stroke="#a82a10" stroke-width="1.3" fill="none"/>
<path d="M561.6 18 l2.4 -0.4 l2 -1 l2 1 l2.2 -1.8 l2 1.8" stroke="#1f9a2f" stroke-width="1.3" fill="none"/>
<path d="M581.8 12 h5.6 l-2.8 3 z" fill="#000"/>
<rect x="593" y="0" width="1" height="25" fill="#a0a0a0" shape-rendering="crispEdges"/>
<rect x="594" y="0" width="1" height="25" fill="#fff" shape-rendering="crispEdges"/>
<rect x="597" y="3" width="3" height="1" fill="#a8a8a8" shape-rendering="crispEdges"/>
<rect x="597" y="5" width="3" height="1" fill="#a8a8a8" shape-rendering="crispEdges"/>
<rect x="597" y="7" width="3" height="1" fill="#a8a8a8" shape-rendering="crispEdges"/>
<rect x="597" y="9" width="3" height="1" fill="#a8a8a8" shape-rendering="crispEdges"/>
<rect x="597" y="11" width="3" height="1" fill="#a8a8a8" shape-rendering="crispEdges"/>
<rect x="597" y="13" width="3" height="1" fill="#a8a8a8" shape-rendering="crispEdges"/>
<rect x="597" y="15" width="3" height="1" fill="#a8a8a8" shape-rendering="crispEdges"/>
<rect x="597" y="17" width="3" height="1" fill="#a8a8a8" shape-rendering="crispEdges"/>
<rect x="597" y="19" width="3" height="1" fill="#a8a8a8" shape-rendering="crispEdges"/>
<rect x="597" y="21" width="3" height="1" fill="#a8a8a8" shape-rendering="crispEdges"/>
<rect x="603" y="1" width="25" height="22" fill="url(#chk)" shape-rendering="crispEdges"/>
<rect x="603" y="1" width="25" height="1" fill="#a0a0a0" shape-rendering="crispEdges"/>
<rect x="603" y="1" width="1" height="22" fill="#a0a0a0" shape-rendering="crispEdges"/>
<rect x="627" y="1" width="1" height="22" fill="#fff" shape-rendering="crispEdges"/>
<rect x="603" y="22" width="25" height="1" fill="#fff" shape-rendering="crispEdges"/>
<path d="M611.3 5.8 V17.4 L614 14.9 L616.3 20.2 L618.2 19.4 L615.9 14.2 L619.4 13.7 Z" fill="#4a4a4a"/>
<rect x="636" y="13" width="6" height="1" fill="#505050" shape-rendering="crispEdges"/>
<rect x="645" y="13" width="6" height="1" fill="#505050" shape-rendering="crispEdges"/>
<rect x="643" y="6" width="1" height="6" fill="#505050" shape-rendering="crispEdges"/>
<rect x="643" y="15" width="1" height="6" fill="#505050" shape-rendering="crispEdges"/>
<rect x="643" y="13" width="1" height="1" fill="#909090" shape-rendering="crispEdges"/>
<rect x="660" y="2" width="1" height="21" fill="#a0a0a0" shape-rendering="crispEdges"/>
<rect x="677" y="7" width="1" height="13" fill="#505050" shape-rendering="crispEdges"/>
<rect x="700" y="13" width="12" height="1" fill="#505050" shape-rendering="crispEdges"/>
<line x1="728" y1="20" x2="740" y2="7.6" stroke="#505050" stroke-width="1.1"/>
<g stroke="#505050" stroke-width="1" fill="none"><path d="M754 15.5 L766 7.5 M755.5 19.5 L768 11 M757.5 11 V19 M760.5 9 V17.5 M764 7 V15"/><path d="M755 12.6 L767 15.4" stroke-width="0.7"/></g>
<text x="764.4" y="22" font-size="6.5" fill="#404040" textLength="4.4" lengthAdjust="spacingAndGlyphs" font-weight="bold">E</text>
<line x1="783" y1="6.5" x2="797" y2="6.5" stroke="#606060" stroke-width="1" stroke-dasharray="1 1" shape-rendering="crispEdges"/>
<line x1="783" y1="9.5" x2="797" y2="9.5" stroke="#606060" stroke-width="1" stroke-dasharray="1 1" shape-rendering="crispEdges"/>
<line x1="783" y1="13.5" x2="797" y2="13.5" stroke="#606060" stroke-width="1" stroke-dasharray="1 1" shape-rendering="crispEdges"/>
<line x1="783" y1="17.5" x2="793" y2="17.5" stroke="#606060" stroke-width="1" stroke-dasharray="1 1" shape-rendering="crispEdges"/>
<text x="792.8" y="22" font-size="6.5" fill="#404040" textLength="4.2" lengthAdjust="spacingAndGlyphs" font-weight="bold">F</text>
<text x="813.6" y="17.8" font-size="12.5" fill="#505050" textLength="8.2" lengthAdjust="spacingAndGlyphs" font-weight="bold">A</text>
<rect x="840.5" y="7.5" width="11" height="12" fill="none" stroke="#505050" stroke-width="1" stroke-dasharray="1 1" shape-rendering="crispEdges"/>
<rect x="839.5" y="6.3" width="2" height="1.4" fill="#505050"/>
<text x="842.2" y="17.6" font-size="11" fill="#505050" textLength="7.6" lengthAdjust="spacingAndGlyphs" font-weight="bold">T</text>
<path d="M867.6 10.6 L870.8 7.4 L874 10.6 L870.8 11.6 Z" fill="#505050"/>
<path d="M875 16.4 L878.2 15.2 L881 16.6 L878 19.8 Z" fill="#505050"/>
<path d="M869.4 13.4 L871.6 15.6 L876.4 10.6" stroke="#505050" stroke-width="1.4" fill="none"/>
<path d="M887.8 11.9 h5.6 l-2.8 3 z" fill="#000"/>
<rect x="899" y="0" width="1" height="25" fill="#a0a0a0" shape-rendering="crispEdges"/>
<rect x="900" y="0" width="1" height="25" fill="#fff" shape-rendering="crispEdges"/>
<rect x="903" y="3" width="3" height="1" fill="#a8a8a8" shape-rendering="crispEdges"/>
<rect x="903" y="5" width="3" height="1" fill="#a8a8a8" shape-rendering="crispEdges"/>
<rect x="903" y="7" width="3" height="1" fill="#a8a8a8" shape-rendering="crispEdges"/>
<rect x="903" y="9" width="3" height="1" fill="#a8a8a8" shape-rendering="crispEdges"/>
<rect x="903" y="11" width="3" height="1" fill="#a8a8a8" shape-rendering="crispEdges"/>
<rect x="903" y="13" width="3" height="1" fill="#a8a8a8" shape-rendering="crispEdges"/>
<rect x="903" y="15" width="3" height="1" fill="#a8a8a8" shape-rendering="crispEdges"/>
<rect x="903" y="17" width="3" height="1" fill="#a8a8a8" shape-rendering="crispEdges"/>
<rect x="903" y="19" width="3" height="1" fill="#a8a8a8" shape-rendering="crispEdges"/>
<rect x="903" y="21" width="3" height="1" fill="#a8a8a8" shape-rendering="crispEdges"/>
<text x="914.7" y="16.9" font-size="9.5" fill="#404040" textLength="12.6" lengthAdjust="spacingAndGlyphs">M1</text>
<text x="942.6" y="16.9" font-size="9.5" fill="#404040" textLength="12.6" lengthAdjust="spacingAndGlyphs">M5</text>
<text x="968.6" y="16.9" font-size="9.5" fill="#404040" textLength="17.5" lengthAdjust="spacingAndGlyphs">M15</text>
<text x="996.6" y="16.9" font-size="9.5" fill="#404040" textLength="17.6" lengthAdjust="spacingAndGlyphs">M30</text>
<text x="1027.6" y="16.9" font-size="9.5" fill="#404040" textLength="11.5" lengthAdjust="spacingAndGlyphs">H1</text>
<text x="1083.6" y="16.9" font-size="9.5" fill="#404040" textLength="11.5" lengthAdjust="spacingAndGlyphs">D1</text>
<text x="1111" y="16.9" font-size="9.5" fill="#404040" textLength="14.4" lengthAdjust="spacingAndGlyphs">W1</text>
<text x="1137.7" y="16.9" font-size="9.5" fill="#404040" textLength="14.7" lengthAdjust="spacingAndGlyphs">MN</text>
<rect x="1049" y="1" width="25" height="22" fill="url(#chk)" shape-rendering="crispEdges"/>
<rect x="1049" y="1" width="25" height="1" fill="#a0a0a0" shape-rendering="crispEdges"/>
<rect x="1049" y="1" width="1" height="22" fill="#a0a0a0" shape-rendering="crispEdges"/>
<rect x="1073" y="1" width="1" height="22" fill="#fff" shape-rendering="crispEdges"/>
<rect x="1049" y="22" width="25" height="1" fill="#fff" shape-rendering="crispEdges"/>
<text x="1054.6" y="16.9" font-size="9.5" fill="#404040" textLength="12.3" lengthAdjust="spacingAndGlyphs">H4</text>
<rect x="1160" y="0" width="1" height="25" fill="#a0a0a0" shape-rendering="crispEdges"/>
<rect x="1161" y="0" width="1" height="25" fill="#fff" shape-rendering="crispEdges"/>
<line x1="1627.6" y1="13.6" x2="1623.4" y2="17.6" stroke="#1f50c8" stroke-width="2.6" stroke-linecap="round"/>
<circle cx="1630.6" cy="10.3" r="3.9" fill="#fff" stroke="#2a5ad2" stroke-width="1.4"/>
<path d="M1664.6 13.6 L1667.4 17 L1662.6 14.2 Z" fill="#6e6e6e"/>
<ellipse cx="1663" cy="9.8" rx="6.3" ry="4.5" fill="url(#gbub)" stroke="#8e8e8e" stroke-width="1.2"/>
<path d="M1653.4 16.8 L1650.9 20 L1655.6 17.4 Z" fill="#6e6e6e"/>
<ellipse cx="1654.2" cy="13.9" rx="5.1" ry="3.7" fill="url(#gbub)" stroke="#8e8e8e" stroke-width="1.2"/>
</g>
</svg>
</body></html>
